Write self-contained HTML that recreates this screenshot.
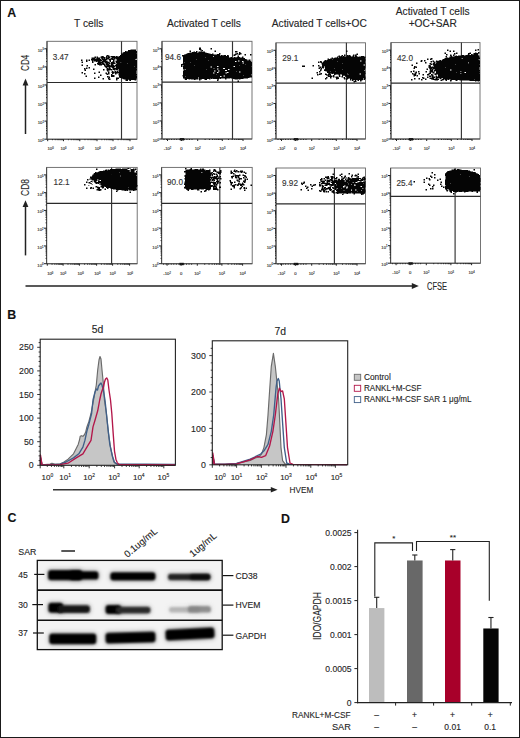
<!DOCTYPE html>
<html><head><meta charset="utf-8"><style>
html,body{margin:0;padding:0;background:#fff;}
body{width:520px;height:738px;overflow:hidden;}
svg{display:block;font-family:"Liberation Sans", sans-serif;}
text{stroke:#333;stroke-width:0.22px;stroke-opacity:0.6;}
</style></head><body>
<svg width="520" height="738" viewBox="0 0 520 738">
<defs>
<filter id="b1" x="-20%" y="-60%" width="140%" height="220%"><feGaussianBlur stdDeviation="1.25"/></filter>
<filter id="b2" x="-30%" y="-100%" width="160%" height="300%"><feGaussianBlur stdDeviation="2.2"/></filter>
</defs>
<rect x="0" y="0" width="520" height="738" fill="#fff"/>
<text x="7.20" y="17.40" font-size="12.4" text-anchor="start" font-weight="bold" fill="#111" >A</text>
<text x="88.70" y="26.90" font-size="10.2" text-anchor="middle" font-weight="normal" fill="#222" >T cells</text>
<text x="203.90" y="26.90" font-size="10.2" text-anchor="middle" font-weight="normal" fill="#222" >Activated T cells</text>
<text x="319.30" y="27.00" font-size="10.2" text-anchor="middle" font-weight="normal" fill="#222" >Activated T cells+OC</text>
<text x="432.70" y="15.00" font-size="10.2" text-anchor="middle" font-weight="normal" fill="#222" >Activated T cells</text>
<text x="432.70" y="26.90" font-size="10.2" text-anchor="middle" font-weight="normal" fill="#222" >+OC+SAR</text>
<rect x="47.00" y="41.30" width="90.00" height="97.90" fill="none" stroke="#666" stroke-width="0.9"/>
<line x1="47.00" y1="41.30" x2="47.00" y2="139.20" stroke="#4a4a4a" stroke-width="1.1"/>
<line x1="47.00" y1="139.20" x2="137.00" y2="139.20" stroke="#4a4a4a" stroke-width="1.1"/>
<line x1="47.00" y1="82.50" x2="137.00" y2="82.50" stroke="#2a2a2a" stroke-width="1.2"/>
<line x1="121.50" y1="41.30" x2="121.50" y2="139.20" stroke="#333" stroke-width="1.15"/>
<text x="44.00" y="142.10" font-size="4.2" text-anchor="end" font-weight="normal" fill="#333" >10<tspan font-size="2.9" dy="-1.3">0</tspan></text>
<text x="44.00" y="124.02" font-size="4.2" text-anchor="end" font-weight="normal" fill="#333" >10<tspan font-size="2.9" dy="-1.3">1</tspan></text>
<text x="44.00" y="105.94" font-size="4.2" text-anchor="end" font-weight="normal" fill="#333" >10<tspan font-size="2.9" dy="-1.3">2</tspan></text>
<text x="44.00" y="87.86" font-size="4.2" text-anchor="end" font-weight="normal" fill="#333" >10<tspan font-size="2.9" dy="-1.3">3</tspan></text>
<text x="44.00" y="69.78" font-size="4.2" text-anchor="end" font-weight="normal" fill="#333" >10<tspan font-size="2.9" dy="-1.3">4</tspan></text>
<text x="44.00" y="51.70" font-size="4.2" text-anchor="end" font-weight="normal" fill="#333" >10<tspan font-size="2.9" dy="-1.3">5</tspan></text>
<path d="M47.00 139.20h-2.6M47.00 133.76h-1M47.00 130.57h-1M47.00 128.31h-1M47.00 126.56h-1M47.00 125.13h-1M47.00 123.92h-1M47.00 122.87h-1M47.00 121.95h-1M47.00 121.12h-2.6M47.00 115.68h-1M47.00 112.49h-1M47.00 110.23h-1M47.00 108.48h-1M47.00 107.05h-1M47.00 105.84h-1M47.00 104.79h-1M47.00 103.87h-1M47.00 103.04h-2.6M47.00 97.60h-1M47.00 94.41h-1M47.00 92.15h-1M47.00 90.40h-1M47.00 88.97h-1M47.00 87.76h-1M47.00 86.71h-1M47.00 85.79h-1M47.00 84.96h-2.6M47.00 79.52h-1M47.00 76.33h-1M47.00 74.07h-1M47.00 72.32h-1M47.00 70.89h-1M47.00 69.68h-1M47.00 68.63h-1M47.00 67.71h-1M47.00 66.88h-2.6M47.00 61.44h-1M47.00 58.25h-1M47.00 55.99h-1M47.00 54.24h-1M47.00 52.81h-1M47.00 51.60h-1M47.00 50.55h-1M47.00 49.63h-1M47.00 48.80h-2.6M47.70 139.20v2M52.46 139.20v1M55.24 139.20v1M57.21 139.20v1M58.74 139.20v1M59.99 139.20v1M61.05 139.20v1M61.97 139.20v1M62.78 139.20v1M63.50 139.20v2M68.41 139.20v1M71.28 139.20v1M73.31 139.20v1M74.89 139.20v1M76.18 139.20v1M77.28 139.20v1M78.22 139.20v1M79.05 139.20v1M79.80 139.20v2M84.98 139.20v1M88.01 139.20v1M90.16 139.20v1M91.82 139.20v1M93.18 139.20v1M94.34 139.20v1M95.33 139.20v1M96.21 139.20v1M97.00 139.20v2M101.82 139.20v1M104.63 139.20v1M106.63 139.20v1M108.18 139.20v1M109.45 139.20v1M110.52 139.20v1M111.45 139.20v1M112.27 139.20v1M113.00 139.20v2M118.12 139.20v1M121.11 139.20v1M123.24 139.20v1M124.88 139.20v1M126.23 139.20v1M127.37 139.20v1M128.35 139.20v1M129.22 139.20v1M130.00 139.20v2" stroke="#222" stroke-width="1.0" fill="none"/>
<text x="50.60" y="150.40" font-size="4.2" text-anchor="middle" font-weight="normal" fill="#333" >10<tspan font-size="2.6" dy="-1.2">0</tspan></text>
<text x="63.50" y="150.40" font-size="4.2" text-anchor="middle" font-weight="normal" fill="#333" >10<tspan font-size="2.6" dy="-1.2">0</tspan></text>
<text x="81.00" y="150.40" font-size="4.2" text-anchor="middle" font-weight="normal" fill="#333" >10<tspan font-size="2.6" dy="-1.2">0</tspan></text>
<text x="97.70" y="150.40" font-size="4.2" text-anchor="middle" font-weight="normal" fill="#333" >10<tspan font-size="2.6" dy="-1.2">0</tspan></text>
<text x="113.00" y="150.40" font-size="4.2" text-anchor="middle" font-weight="normal" fill="#333" >10<tspan font-size="2.6" dy="-1.2">0</tspan></text>
<text x="130.40" y="150.40" font-size="4.2" text-anchor="middle" font-weight="normal" fill="#333" >10<tspan font-size="2.6" dy="-1.2">0</tspan></text>
<text x="52.70" y="59.50" font-size="8.2" text-anchor="start" font-weight="normal" fill="#333" >3.47</text>
<rect x="162.00" y="41.30" width="90.00" height="97.70" fill="none" stroke="#666" stroke-width="0.9"/>
<line x1="162.00" y1="41.30" x2="162.00" y2="139.00" stroke="#4a4a4a" stroke-width="1.1"/>
<line x1="162.00" y1="139.00" x2="252.00" y2="139.00" stroke="#4a4a4a" stroke-width="1.1"/>
<line x1="162.00" y1="82.20" x2="252.00" y2="82.20" stroke="#2a2a2a" stroke-width="1.2"/>
<line x1="232.50" y1="41.30" x2="232.50" y2="139.00" stroke="#333" stroke-width="1.15"/>
<text x="159.00" y="141.90" font-size="4.2" text-anchor="end" font-weight="normal" fill="#333" >10<tspan font-size="2.9" dy="-1.3">0</tspan></text>
<text x="159.00" y="123.86" font-size="4.2" text-anchor="end" font-weight="normal" fill="#333" >10<tspan font-size="2.9" dy="-1.3">1</tspan></text>
<text x="159.00" y="105.82" font-size="4.2" text-anchor="end" font-weight="normal" fill="#333" >10<tspan font-size="2.9" dy="-1.3">2</tspan></text>
<text x="159.00" y="87.78" font-size="4.2" text-anchor="end" font-weight="normal" fill="#333" >10<tspan font-size="2.9" dy="-1.3">3</tspan></text>
<text x="159.00" y="69.74" font-size="4.2" text-anchor="end" font-weight="normal" fill="#333" >10<tspan font-size="2.9" dy="-1.3">4</tspan></text>
<text x="159.00" y="51.70" font-size="4.2" text-anchor="end" font-weight="normal" fill="#333" >10<tspan font-size="2.9" dy="-1.3">5</tspan></text>
<rect x="179.80" y="138.10" width="4.4" height="2.4" fill="#111"/>
<path d="M162.00 139.00h-2.6M162.00 133.57h-1M162.00 130.39h-1M162.00 128.14h-1M162.00 126.39h-1M162.00 124.96h-1M162.00 123.75h-1M162.00 122.71h-1M162.00 121.79h-1M162.00 120.96h-2.6M162.00 115.53h-1M162.00 112.35h-1M162.00 110.10h-1M162.00 108.35h-1M162.00 106.92h-1M162.00 105.71h-1M162.00 104.67h-1M162.00 103.75h-1M162.00 102.92h-2.6M162.00 97.49h-1M162.00 94.31h-1M162.00 92.06h-1M162.00 90.31h-1M162.00 88.88h-1M162.00 87.67h-1M162.00 86.63h-1M162.00 85.71h-1M162.00 84.88h-2.6M162.00 79.45h-1M162.00 76.27h-1M162.00 74.02h-1M162.00 72.27h-1M162.00 70.84h-1M162.00 69.63h-1M162.00 68.59h-1M162.00 67.67h-1M162.00 66.84h-2.6M162.00 61.41h-1M162.00 58.23h-1M162.00 55.98h-1M162.00 54.23h-1M162.00 52.80h-1M162.00 51.59h-1M162.00 50.55h-1M162.00 49.63h-1M162.00 48.80h-2.6M167.50 139.00v2M181.50 139.00v2M197.70 139.00v2M222.30 139.00v2M243.00 139.00v2M164.00 139.00v1M166.55 139.00v1M169.09 139.00v1M171.64 139.00v1M174.18 139.00v1M176.73 139.00v1M179.27 139.00v1M181.82 139.00v1M184.36 139.00v1M186.91 139.00v1M189.45 139.00v1M192.00 139.00v1M205.11 139.00v1M209.44 139.00v1M212.51 139.00v1M214.89 139.00v1M216.84 139.00v1M218.49 139.00v1M219.92 139.00v1M221.17 139.00v1M228.53 139.00v1M232.18 139.00v1M234.76 139.00v1M236.77 139.00v1M238.41 139.00v1M239.79 139.00v1M240.99 139.00v1M242.05 139.00v1" stroke="#222" stroke-width="1.0" fill="none"/>
<text x="167.50" y="150.20" font-size="4.2" text-anchor="middle" font-weight="normal" fill="#333" >-10<tspan font-size="2.6" dy="-1.2">2</tspan></text>
<text x="181.50" y="150.20" font-size="4.2" text-anchor="middle" font-weight="normal" fill="#333" >0</text>
<text x="197.70" y="150.20" font-size="4.2" text-anchor="middle" font-weight="normal" fill="#333" >10<tspan font-size="2.6" dy="-1.2">2</tspan></text>
<text x="222.30" y="150.20" font-size="4.2" text-anchor="middle" font-weight="normal" fill="#333" >10<tspan font-size="2.6" dy="-1.2">3</tspan></text>
<text x="243.00" y="150.20" font-size="4.2" text-anchor="middle" font-weight="normal" fill="#333" >10<tspan font-size="2.6" dy="-1.2">4</tspan></text>
<text x="165.00" y="59.80" font-size="8.2" text-anchor="start" font-weight="normal" fill="#333" >94.6</text>
<rect x="276.00" y="42.80" width="89.50" height="96.20" fill="none" stroke="#666" stroke-width="0.9"/>
<line x1="276.00" y1="42.80" x2="276.00" y2="139.00" stroke="#4a4a4a" stroke-width="1.1"/>
<line x1="276.00" y1="139.00" x2="365.50" y2="139.00" stroke="#4a4a4a" stroke-width="1.1"/>
<line x1="276.00" y1="83.20" x2="365.50" y2="83.20" stroke="#2a2a2a" stroke-width="1.2"/>
<line x1="346.40" y1="42.80" x2="346.40" y2="139.00" stroke="#333" stroke-width="1.15"/>
<text x="273.00" y="141.90" font-size="4.2" text-anchor="end" font-weight="normal" fill="#333" >10<tspan font-size="2.9" dy="-1.3">0</tspan></text>
<text x="273.00" y="124.16" font-size="4.2" text-anchor="end" font-weight="normal" fill="#333" >10<tspan font-size="2.9" dy="-1.3">1</tspan></text>
<text x="273.00" y="106.42" font-size="4.2" text-anchor="end" font-weight="normal" fill="#333" >10<tspan font-size="2.9" dy="-1.3">2</tspan></text>
<text x="273.00" y="88.68" font-size="4.2" text-anchor="end" font-weight="normal" fill="#333" >10<tspan font-size="2.9" dy="-1.3">3</tspan></text>
<text x="273.00" y="70.94" font-size="4.2" text-anchor="end" font-weight="normal" fill="#333" >10<tspan font-size="2.9" dy="-1.3">4</tspan></text>
<text x="273.00" y="53.20" font-size="4.2" text-anchor="end" font-weight="normal" fill="#333" >10<tspan font-size="2.9" dy="-1.3">5</tspan></text>
<rect x="293.80" y="138.10" width="4.4" height="2.4" fill="#111"/>
<path d="M276.00 139.00h-2.6M276.00 133.66h-1M276.00 130.54h-1M276.00 128.32h-1M276.00 126.60h-1M276.00 125.20h-1M276.00 124.01h-1M276.00 122.98h-1M276.00 122.07h-1M276.00 121.26h-2.6M276.00 115.92h-1M276.00 112.80h-1M276.00 110.58h-1M276.00 108.86h-1M276.00 107.46h-1M276.00 106.27h-1M276.00 105.24h-1M276.00 104.33h-1M276.00 103.52h-2.6M276.00 98.18h-1M276.00 95.06h-1M276.00 92.84h-1M276.00 91.12h-1M276.00 89.72h-1M276.00 88.53h-1M276.00 87.50h-1M276.00 86.59h-1M276.00 85.78h-2.6M276.00 80.44h-1M276.00 77.32h-1M276.00 75.10h-1M276.00 73.38h-1M276.00 71.98h-1M276.00 70.79h-1M276.00 69.76h-1M276.00 68.85h-1M276.00 68.04h-2.6M276.00 62.70h-1M276.00 59.58h-1M276.00 57.36h-1M276.00 55.64h-1M276.00 54.24h-1M276.00 53.05h-1M276.00 52.02h-1M276.00 51.11h-1M276.00 50.30h-2.6M281.50 139.00v2M295.50 139.00v2M311.70 139.00v2M336.30 139.00v2M357.00 139.00v2M278.00 139.00v1M280.55 139.00v1M283.09 139.00v1M285.64 139.00v1M288.18 139.00v1M290.73 139.00v1M293.27 139.00v1M295.82 139.00v1M298.36 139.00v1M300.91 139.00v1M303.45 139.00v1M306.00 139.00v1M319.11 139.00v1M323.44 139.00v1M326.51 139.00v1M328.89 139.00v1M330.84 139.00v1M332.49 139.00v1M333.92 139.00v1M335.17 139.00v1M342.53 139.00v1M346.18 139.00v1M348.76 139.00v1M350.77 139.00v1M352.41 139.00v1M353.79 139.00v1M354.99 139.00v1M356.05 139.00v1" stroke="#222" stroke-width="1.0" fill="none"/>
<text x="281.50" y="150.20" font-size="4.2" text-anchor="middle" font-weight="normal" fill="#333" >-10<tspan font-size="2.6" dy="-1.2">2</tspan></text>
<text x="295.50" y="150.20" font-size="4.2" text-anchor="middle" font-weight="normal" fill="#333" >0</text>
<text x="311.70" y="150.20" font-size="4.2" text-anchor="middle" font-weight="normal" fill="#333" >10<tspan font-size="2.6" dy="-1.2">2</tspan></text>
<text x="336.30" y="150.20" font-size="4.2" text-anchor="middle" font-weight="normal" fill="#333" >10<tspan font-size="2.6" dy="-1.2">3</tspan></text>
<text x="357.00" y="150.20" font-size="4.2" text-anchor="middle" font-weight="normal" fill="#333" >10<tspan font-size="2.6" dy="-1.2">4</tspan></text>
<text x="282.30" y="60.80" font-size="8.2" text-anchor="start" font-weight="normal" fill="#333" >29.1</text>
<rect x="391.00" y="42.60" width="89.00" height="96.40" fill="none" stroke="#666" stroke-width="0.9"/>
<line x1="391.00" y1="42.60" x2="391.00" y2="139.00" stroke="#4a4a4a" stroke-width="1.1"/>
<line x1="391.00" y1="139.00" x2="480.00" y2="139.00" stroke="#4a4a4a" stroke-width="1.1"/>
<line x1="391.00" y1="83.20" x2="480.00" y2="83.20" stroke="#2a2a2a" stroke-width="1.2"/>
<line x1="461.40" y1="42.60" x2="461.40" y2="139.00" stroke="#333" stroke-width="1.15"/>
<text x="388.00" y="141.90" font-size="4.2" text-anchor="end" font-weight="normal" fill="#333" >10<tspan font-size="2.9" dy="-1.3">0</tspan></text>
<text x="388.00" y="124.12" font-size="4.2" text-anchor="end" font-weight="normal" fill="#333" >10<tspan font-size="2.9" dy="-1.3">1</tspan></text>
<text x="388.00" y="106.34" font-size="4.2" text-anchor="end" font-weight="normal" fill="#333" >10<tspan font-size="2.9" dy="-1.3">2</tspan></text>
<text x="388.00" y="88.56" font-size="4.2" text-anchor="end" font-weight="normal" fill="#333" >10<tspan font-size="2.9" dy="-1.3">3</tspan></text>
<text x="388.00" y="70.78" font-size="4.2" text-anchor="end" font-weight="normal" fill="#333" >10<tspan font-size="2.9" dy="-1.3">4</tspan></text>
<text x="388.00" y="53.00" font-size="4.2" text-anchor="end" font-weight="normal" fill="#333" >10<tspan font-size="2.9" dy="-1.3">5</tspan></text>
<rect x="408.80" y="138.10" width="4.4" height="2.4" fill="#111"/>
<path d="M391.00 139.00h-2.6M391.00 133.65h-1M391.00 130.52h-1M391.00 128.30h-1M391.00 126.57h-1M391.00 125.16h-1M391.00 123.97h-1M391.00 122.94h-1M391.00 122.03h-1M391.00 121.22h-2.6M391.00 115.87h-1M391.00 112.74h-1M391.00 110.52h-1M391.00 108.79h-1M391.00 107.38h-1M391.00 106.19h-1M391.00 105.16h-1M391.00 104.25h-1M391.00 103.44h-2.6M391.00 98.09h-1M391.00 94.96h-1M391.00 92.74h-1M391.00 91.01h-1M391.00 89.60h-1M391.00 88.41h-1M391.00 87.38h-1M391.00 86.47h-1M391.00 85.66h-2.6M391.00 80.31h-1M391.00 77.18h-1M391.00 74.96h-1M391.00 73.23h-1M391.00 71.82h-1M391.00 70.63h-1M391.00 69.60h-1M391.00 68.69h-1M391.00 67.88h-2.6M391.00 62.53h-1M391.00 59.40h-1M391.00 57.18h-1M391.00 55.45h-1M391.00 54.04h-1M391.00 52.85h-1M391.00 51.82h-1M391.00 50.91h-1M391.00 50.10h-2.6M396.50 139.00v2M410.50 139.00v2M426.70 139.00v2M451.30 139.00v2M472.00 139.00v2M393.00 139.00v1M395.55 139.00v1M398.09 139.00v1M400.64 139.00v1M403.18 139.00v1M405.73 139.00v1M408.27 139.00v1M410.82 139.00v1M413.36 139.00v1M415.91 139.00v1M418.45 139.00v1M421.00 139.00v1M434.11 139.00v1M438.44 139.00v1M441.51 139.00v1M443.89 139.00v1M445.84 139.00v1M447.49 139.00v1M448.92 139.00v1M450.17 139.00v1M457.53 139.00v1M461.18 139.00v1M463.76 139.00v1M465.77 139.00v1M467.41 139.00v1M468.79 139.00v1M469.99 139.00v1M471.05 139.00v1" stroke="#222" stroke-width="1.0" fill="none"/>
<text x="396.50" y="150.20" font-size="4.2" text-anchor="middle" font-weight="normal" fill="#333" >-10<tspan font-size="2.6" dy="-1.2">2</tspan></text>
<text x="410.50" y="150.20" font-size="4.2" text-anchor="middle" font-weight="normal" fill="#333" >0</text>
<text x="426.70" y="150.20" font-size="4.2" text-anchor="middle" font-weight="normal" fill="#333" >10<tspan font-size="2.6" dy="-1.2">2</tspan></text>
<text x="451.30" y="150.20" font-size="4.2" text-anchor="middle" font-weight="normal" fill="#333" >10<tspan font-size="2.6" dy="-1.2">3</tspan></text>
<text x="472.00" y="150.20" font-size="4.2" text-anchor="middle" font-weight="normal" fill="#333" >10<tspan font-size="2.6" dy="-1.2">4</tspan></text>
<text x="397.00" y="61.30" font-size="8.2" text-anchor="start" font-weight="normal" fill="#333" >42.0</text>
<rect x="46.60" y="167.40" width="90.60" height="96.30" fill="none" stroke="#666" stroke-width="0.9"/>
<line x1="46.60" y1="167.40" x2="46.60" y2="263.70" stroke="#4a4a4a" stroke-width="1.1"/>
<line x1="46.60" y1="263.70" x2="137.20" y2="263.70" stroke="#4a4a4a" stroke-width="1.1"/>
<line x1="46.60" y1="203.40" x2="137.20" y2="203.40" stroke="#2a2a2a" stroke-width="1.2"/>
<line x1="111.60" y1="167.40" x2="111.60" y2="263.70" stroke="#333" stroke-width="1.15"/>
<text x="43.60" y="266.60" font-size="4.2" text-anchor="end" font-weight="normal" fill="#333" >10<tspan font-size="2.9" dy="-1.3">0</tspan></text>
<text x="43.60" y="248.84" font-size="4.2" text-anchor="end" font-weight="normal" fill="#333" >10<tspan font-size="2.9" dy="-1.3">1</tspan></text>
<text x="43.60" y="231.08" font-size="4.2" text-anchor="end" font-weight="normal" fill="#333" >10<tspan font-size="2.9" dy="-1.3">2</tspan></text>
<text x="43.60" y="213.32" font-size="4.2" text-anchor="end" font-weight="normal" fill="#333" >10<tspan font-size="2.9" dy="-1.3">3</tspan></text>
<text x="43.60" y="195.56" font-size="4.2" text-anchor="end" font-weight="normal" fill="#333" >10<tspan font-size="2.9" dy="-1.3">4</tspan></text>
<text x="43.60" y="177.80" font-size="4.2" text-anchor="end" font-weight="normal" fill="#333" >10<tspan font-size="2.9" dy="-1.3">5</tspan></text>
<path d="M46.60 263.70h-2.6M46.60 258.35h-1M46.60 255.23h-1M46.60 253.01h-1M46.60 251.29h-1M46.60 249.88h-1M46.60 248.69h-1M46.60 247.66h-1M46.60 246.75h-1M46.60 245.94h-2.6M46.60 240.59h-1M46.60 237.47h-1M46.60 235.25h-1M46.60 233.53h-1M46.60 232.12h-1M46.60 230.93h-1M46.60 229.90h-1M46.60 228.99h-1M46.60 228.18h-2.6M46.60 222.83h-1M46.60 219.71h-1M46.60 217.49h-1M46.60 215.77h-1M46.60 214.36h-1M46.60 213.17h-1M46.60 212.14h-1M46.60 211.23h-1M46.60 210.42h-2.6M46.60 205.07h-1M46.60 201.95h-1M46.60 199.73h-1M46.60 198.01h-1M46.60 196.60h-1M46.60 195.41h-1M46.60 194.38h-1M46.60 193.47h-1M46.60 192.66h-2.6M46.60 187.31h-1M46.60 184.19h-1M46.60 181.97h-1M46.60 180.25h-1M46.60 178.84h-1M46.60 177.65h-1M46.60 176.62h-1M46.60 175.71h-1M46.60 174.90h-2.6M47.30 263.70v2M52.06 263.70v1M54.84 263.70v1M56.81 263.70v1M58.34 263.70v1M59.59 263.70v1M60.65 263.70v1M61.57 263.70v1M62.38 263.70v1M63.10 263.70v2M68.01 263.70v1M70.88 263.70v1M72.91 263.70v1M74.49 263.70v1M75.78 263.70v1M76.88 263.70v1M77.82 263.70v1M78.65 263.70v1M79.40 263.70v2M84.58 263.70v1M87.61 263.70v1M89.76 263.70v1M91.42 263.70v1M92.78 263.70v1M93.94 263.70v1M94.93 263.70v1M95.81 263.70v1M96.60 263.70v2M101.42 263.70v1M104.23 263.70v1M106.23 263.70v1M107.78 263.70v1M109.05 263.70v1M110.12 263.70v1M111.05 263.70v1M111.87 263.70v1M112.60 263.70v2M117.72 263.70v1M120.71 263.70v1M122.84 263.70v1M124.48 263.70v1M125.83 263.70v1M126.97 263.70v1M127.95 263.70v1M128.82 263.70v1M129.60 263.70v2" stroke="#222" stroke-width="1.0" fill="none"/>
<text x="50.20" y="274.90" font-size="4.2" text-anchor="middle" font-weight="normal" fill="#333" >10<tspan font-size="2.6" dy="-1.2">0</tspan></text>
<text x="63.10" y="274.90" font-size="4.2" text-anchor="middle" font-weight="normal" fill="#333" >10<tspan font-size="2.6" dy="-1.2">0</tspan></text>
<text x="80.60" y="274.90" font-size="4.2" text-anchor="middle" font-weight="normal" fill="#333" >10<tspan font-size="2.6" dy="-1.2">0</tspan></text>
<text x="97.30" y="274.90" font-size="4.2" text-anchor="middle" font-weight="normal" fill="#333" >10<tspan font-size="2.6" dy="-1.2">0</tspan></text>
<text x="112.60" y="274.90" font-size="4.2" text-anchor="middle" font-weight="normal" fill="#333" >10<tspan font-size="2.6" dy="-1.2">0</tspan></text>
<text x="130.00" y="274.90" font-size="4.2" text-anchor="middle" font-weight="normal" fill="#333" >10<tspan font-size="2.6" dy="-1.2">0</tspan></text>
<text x="53.60" y="184.80" font-size="8.2" text-anchor="start" font-weight="normal" fill="#333" >12.1</text>
<rect x="161.60" y="167.40" width="90.60" height="96.30" fill="none" stroke="#666" stroke-width="0.9"/>
<line x1="161.60" y1="167.40" x2="161.60" y2="263.70" stroke="#4a4a4a" stroke-width="1.1"/>
<line x1="161.60" y1="263.70" x2="252.20" y2="263.70" stroke="#4a4a4a" stroke-width="1.1"/>
<line x1="161.60" y1="203.40" x2="252.20" y2="203.40" stroke="#2a2a2a" stroke-width="1.2"/>
<line x1="219.80" y1="167.40" x2="219.80" y2="263.70" stroke="#333" stroke-width="1.15"/>
<text x="158.60" y="266.60" font-size="4.2" text-anchor="end" font-weight="normal" fill="#333" >10<tspan font-size="2.9" dy="-1.3">0</tspan></text>
<text x="158.60" y="248.84" font-size="4.2" text-anchor="end" font-weight="normal" fill="#333" >10<tspan font-size="2.9" dy="-1.3">1</tspan></text>
<text x="158.60" y="231.08" font-size="4.2" text-anchor="end" font-weight="normal" fill="#333" >10<tspan font-size="2.9" dy="-1.3">2</tspan></text>
<text x="158.60" y="213.32" font-size="4.2" text-anchor="end" font-weight="normal" fill="#333" >10<tspan font-size="2.9" dy="-1.3">3</tspan></text>
<text x="158.60" y="195.56" font-size="4.2" text-anchor="end" font-weight="normal" fill="#333" >10<tspan font-size="2.9" dy="-1.3">4</tspan></text>
<text x="158.60" y="177.80" font-size="4.2" text-anchor="end" font-weight="normal" fill="#333" >10<tspan font-size="2.9" dy="-1.3">5</tspan></text>
<rect x="179.40" y="262.80" width="4.4" height="2.4" fill="#111"/>
<path d="M161.60 263.70h-2.6M161.60 258.35h-1M161.60 255.23h-1M161.60 253.01h-1M161.60 251.29h-1M161.60 249.88h-1M161.60 248.69h-1M161.60 247.66h-1M161.60 246.75h-1M161.60 245.94h-2.6M161.60 240.59h-1M161.60 237.47h-1M161.60 235.25h-1M161.60 233.53h-1M161.60 232.12h-1M161.60 230.93h-1M161.60 229.90h-1M161.60 228.99h-1M161.60 228.18h-2.6M161.60 222.83h-1M161.60 219.71h-1M161.60 217.49h-1M161.60 215.77h-1M161.60 214.36h-1M161.60 213.17h-1M161.60 212.14h-1M161.60 211.23h-1M161.60 210.42h-2.6M161.60 205.07h-1M161.60 201.95h-1M161.60 199.73h-1M161.60 198.01h-1M161.60 196.60h-1M161.60 195.41h-1M161.60 194.38h-1M161.60 193.47h-1M161.60 192.66h-2.6M161.60 187.31h-1M161.60 184.19h-1M161.60 181.97h-1M161.60 180.25h-1M161.60 178.84h-1M161.60 177.65h-1M161.60 176.62h-1M161.60 175.71h-1M161.60 174.90h-2.6M167.10 263.70v2M181.10 263.70v2M197.30 263.70v2M221.90 263.70v2M242.60 263.70v2M163.60 263.70v1M166.15 263.70v1M168.69 263.70v1M171.24 263.70v1M173.78 263.70v1M176.33 263.70v1M178.87 263.70v1M181.42 263.70v1M183.96 263.70v1M186.51 263.70v1M189.05 263.70v1M191.60 263.70v1M204.71 263.70v1M209.04 263.70v1M212.11 263.70v1M214.49 263.70v1M216.44 263.70v1M218.09 263.70v1M219.52 263.70v1M220.77 263.70v1M228.13 263.70v1M231.78 263.70v1M234.36 263.70v1M236.37 263.70v1M238.01 263.70v1M239.39 263.70v1M240.59 263.70v1M241.65 263.70v1" stroke="#222" stroke-width="1.0" fill="none"/>
<text x="167.10" y="274.90" font-size="4.2" text-anchor="middle" font-weight="normal" fill="#333" >-10<tspan font-size="2.6" dy="-1.2">2</tspan></text>
<text x="181.10" y="274.90" font-size="4.2" text-anchor="middle" font-weight="normal" fill="#333" >0</text>
<text x="197.30" y="274.90" font-size="4.2" text-anchor="middle" font-weight="normal" fill="#333" >10<tspan font-size="2.6" dy="-1.2">2</tspan></text>
<text x="221.90" y="274.90" font-size="4.2" text-anchor="middle" font-weight="normal" fill="#333" >10<tspan font-size="2.6" dy="-1.2">3</tspan></text>
<text x="242.60" y="274.90" font-size="4.2" text-anchor="middle" font-weight="normal" fill="#333" >10<tspan font-size="2.6" dy="-1.2">4</tspan></text>
<text x="167.00" y="185.00" font-size="8.2" text-anchor="start" font-weight="normal" fill="#333" >90.0</text>
<rect x="276.00" y="168.00" width="89.50" height="95.70" fill="none" stroke="#666" stroke-width="0.9"/>
<line x1="276.00" y1="168.00" x2="276.00" y2="263.70" stroke="#4a4a4a" stroke-width="1.1"/>
<line x1="276.00" y1="263.70" x2="365.50" y2="263.70" stroke="#4a4a4a" stroke-width="1.1"/>
<line x1="276.00" y1="203.80" x2="365.50" y2="203.80" stroke="#2a2a2a" stroke-width="1.2"/>
<line x1="334.40" y1="168.00" x2="334.40" y2="263.70" stroke="#333" stroke-width="1.15"/>
<text x="273.00" y="266.60" font-size="4.2" text-anchor="end" font-weight="normal" fill="#333" >10<tspan font-size="2.9" dy="-1.3">0</tspan></text>
<text x="273.00" y="248.96" font-size="4.2" text-anchor="end" font-weight="normal" fill="#333" >10<tspan font-size="2.9" dy="-1.3">1</tspan></text>
<text x="273.00" y="231.32" font-size="4.2" text-anchor="end" font-weight="normal" fill="#333" >10<tspan font-size="2.9" dy="-1.3">2</tspan></text>
<text x="273.00" y="213.68" font-size="4.2" text-anchor="end" font-weight="normal" fill="#333" >10<tspan font-size="2.9" dy="-1.3">3</tspan></text>
<text x="273.00" y="196.04" font-size="4.2" text-anchor="end" font-weight="normal" fill="#333" >10<tspan font-size="2.9" dy="-1.3">4</tspan></text>
<text x="273.00" y="178.40" font-size="4.2" text-anchor="end" font-weight="normal" fill="#333" >10<tspan font-size="2.9" dy="-1.3">5</tspan></text>
<rect x="293.80" y="262.80" width="4.4" height="2.4" fill="#111"/>
<path d="M276.00 263.70h-2.6M276.00 258.39h-1M276.00 255.28h-1M276.00 253.08h-1M276.00 251.37h-1M276.00 249.97h-1M276.00 248.79h-1M276.00 247.77h-1M276.00 246.87h-1M276.00 246.06h-2.6M276.00 240.75h-1M276.00 237.64h-1M276.00 235.44h-1M276.00 233.73h-1M276.00 232.33h-1M276.00 231.15h-1M276.00 230.13h-1M276.00 229.23h-1M276.00 228.42h-2.6M276.00 223.11h-1M276.00 220.00h-1M276.00 217.80h-1M276.00 216.09h-1M276.00 214.69h-1M276.00 213.51h-1M276.00 212.49h-1M276.00 211.59h-1M276.00 210.78h-2.6M276.00 205.47h-1M276.00 202.36h-1M276.00 200.16h-1M276.00 198.45h-1M276.00 197.05h-1M276.00 195.87h-1M276.00 194.85h-1M276.00 193.95h-1M276.00 193.14h-2.6M276.00 187.83h-1M276.00 184.72h-1M276.00 182.52h-1M276.00 180.81h-1M276.00 179.41h-1M276.00 178.23h-1M276.00 177.21h-1M276.00 176.31h-1M276.00 175.50h-2.6M281.50 263.70v2M295.50 263.70v2M311.70 263.70v2M336.30 263.70v2M357.00 263.70v2M278.00 263.70v1M280.55 263.70v1M283.09 263.70v1M285.64 263.70v1M288.18 263.70v1M290.73 263.70v1M293.27 263.70v1M295.82 263.70v1M298.36 263.70v1M300.91 263.70v1M303.45 263.70v1M306.00 263.70v1M319.11 263.70v1M323.44 263.70v1M326.51 263.70v1M328.89 263.70v1M330.84 263.70v1M332.49 263.70v1M333.92 263.70v1M335.17 263.70v1M342.53 263.70v1M346.18 263.70v1M348.76 263.70v1M350.77 263.70v1M352.41 263.70v1M353.79 263.70v1M354.99 263.70v1M356.05 263.70v1" stroke="#222" stroke-width="1.0" fill="none"/>
<text x="281.50" y="274.90" font-size="4.2" text-anchor="middle" font-weight="normal" fill="#333" >-10<tspan font-size="2.6" dy="-1.2">2</tspan></text>
<text x="295.50" y="274.90" font-size="4.2" text-anchor="middle" font-weight="normal" fill="#333" >0</text>
<text x="311.70" y="274.90" font-size="4.2" text-anchor="middle" font-weight="normal" fill="#333" >10<tspan font-size="2.6" dy="-1.2">2</tspan></text>
<text x="336.30" y="274.90" font-size="4.2" text-anchor="middle" font-weight="normal" fill="#333" >10<tspan font-size="2.6" dy="-1.2">3</tspan></text>
<text x="357.00" y="274.90" font-size="4.2" text-anchor="middle" font-weight="normal" fill="#333" >10<tspan font-size="2.6" dy="-1.2">4</tspan></text>
<text x="282.00" y="186.00" font-size="8.2" text-anchor="start" font-weight="normal" fill="#333" >9.92</text>
<rect x="390.60" y="168.00" width="89.90" height="95.20" fill="none" stroke="#666" stroke-width="0.9"/>
<line x1="390.60" y1="168.00" x2="390.60" y2="263.20" stroke="#4a4a4a" stroke-width="1.1"/>
<line x1="390.60" y1="263.20" x2="480.50" y2="263.20" stroke="#4a4a4a" stroke-width="1.1"/>
<line x1="390.60" y1="196.40" x2="480.50" y2="196.40" stroke="#2a2a2a" stroke-width="1.2"/>
<line x1="455.10" y1="168.00" x2="455.10" y2="263.20" stroke="#333" stroke-width="1.15"/>
<text x="387.60" y="266.10" font-size="4.2" text-anchor="end" font-weight="normal" fill="#333" >10<tspan font-size="2.9" dy="-1.3">0</tspan></text>
<text x="387.60" y="248.56" font-size="4.2" text-anchor="end" font-weight="normal" fill="#333" >10<tspan font-size="2.9" dy="-1.3">1</tspan></text>
<text x="387.60" y="231.02" font-size="4.2" text-anchor="end" font-weight="normal" fill="#333" >10<tspan font-size="2.9" dy="-1.3">2</tspan></text>
<text x="387.60" y="213.48" font-size="4.2" text-anchor="end" font-weight="normal" fill="#333" >10<tspan font-size="2.9" dy="-1.3">3</tspan></text>
<text x="387.60" y="195.94" font-size="4.2" text-anchor="end" font-weight="normal" fill="#333" >10<tspan font-size="2.9" dy="-1.3">4</tspan></text>
<text x="387.60" y="178.40" font-size="4.2" text-anchor="end" font-weight="normal" fill="#333" >10<tspan font-size="2.9" dy="-1.3">5</tspan></text>
<rect x="408.40" y="262.30" width="4.4" height="2.4" fill="#111"/>
<path d="M390.60 263.20h-2.6M390.60 257.92h-1M390.60 254.83h-1M390.60 252.64h-1M390.60 250.94h-1M390.60 249.55h-1M390.60 248.38h-1M390.60 247.36h-1M390.60 246.46h-1M390.60 245.66h-2.6M390.60 240.38h-1M390.60 237.29h-1M390.60 235.10h-1M390.60 233.40h-1M390.60 232.01h-1M390.60 230.84h-1M390.60 229.82h-1M390.60 228.92h-1M390.60 228.12h-2.6M390.60 222.84h-1M390.60 219.75h-1M390.60 217.56h-1M390.60 215.86h-1M390.60 214.47h-1M390.60 213.30h-1M390.60 212.28h-1M390.60 211.38h-1M390.60 210.58h-2.6M390.60 205.30h-1M390.60 202.21h-1M390.60 200.02h-1M390.60 198.32h-1M390.60 196.93h-1M390.60 195.76h-1M390.60 194.74h-1M390.60 193.84h-1M390.60 193.04h-2.6M390.60 187.76h-1M390.60 184.67h-1M390.60 182.48h-1M390.60 180.78h-1M390.60 179.39h-1M390.60 178.22h-1M390.60 177.20h-1M390.60 176.30h-1M390.60 175.50h-2.6M396.10 263.20v2M410.10 263.20v2M426.30 263.20v2M450.90 263.20v2M471.60 263.20v2M392.60 263.20v1M395.15 263.20v1M397.69 263.20v1M400.24 263.20v1M402.78 263.20v1M405.33 263.20v1M407.87 263.20v1M410.42 263.20v1M412.96 263.20v1M415.51 263.20v1M418.05 263.20v1M420.60 263.20v1M433.71 263.20v1M438.04 263.20v1M441.11 263.20v1M443.49 263.20v1M445.44 263.20v1M447.09 263.20v1M448.52 263.20v1M449.77 263.20v1M457.13 263.20v1M460.78 263.20v1M463.36 263.20v1M465.37 263.20v1M467.01 263.20v1M468.39 263.20v1M469.59 263.20v1M470.65 263.20v1" stroke="#222" stroke-width="1.0" fill="none"/>
<text x="396.10" y="274.40" font-size="4.2" text-anchor="middle" font-weight="normal" fill="#333" >-10<tspan font-size="2.6" dy="-1.2">2</tspan></text>
<text x="410.10" y="274.40" font-size="4.2" text-anchor="middle" font-weight="normal" fill="#333" >0</text>
<text x="426.30" y="274.40" font-size="4.2" text-anchor="middle" font-weight="normal" fill="#333" >10<tspan font-size="2.6" dy="-1.2">2</tspan></text>
<text x="450.90" y="274.40" font-size="4.2" text-anchor="middle" font-weight="normal" fill="#333" >10<tspan font-size="2.6" dy="-1.2">3</tspan></text>
<text x="471.60" y="274.40" font-size="4.2" text-anchor="middle" font-weight="normal" fill="#333" >10<tspan font-size="2.6" dy="-1.2">4</tspan></text>
<text x="396.50" y="185.80" font-size="8.2" text-anchor="start" font-weight="normal" fill="#333" >25.4</text>
<path d="M130.5 49.5h5.5v.5h-5.5zM128 50h8v.5h-8zM128 50.5h8v.5h-8zM125 51h1.5v.5h-1.5zM127.5 51h9.5v.5h-9.5zM125 51.5h12v.5h-12zM123.5 52h13.5v.5h-13.5zM122.5 52.5h14.5v.5h-14.5zM122.5 53h14.5v.5h-14.5zM121 53.5h15.5v.5h-15.5zM121 54h16v.5h-16zM121 54.5h16v.5h-16zM107 55h1.5v.5h-1.5zM120 55h17v.5h-17zM106 55.5h3.5v.5h-3.5zM120 55.5h17v.5h-17zM101.5 56h2v.5h-2zM106 56h3.5v.5h-3.5zM110.5 56h4.5v.5h-4.5zM116 56h1.5v.5h-1.5zM119 56h18v.5h-18zM94.5 56.5h1.5v.5h-1.5zM96.5 56.5h1.5v.5h-1.5zM100.5 56.5h3.5v.5h-3.5zM106 56.5h1.5v.5h-1.5zM108 56.5h2v.5h-2zM110.5 56.5h26.5v.5h-26.5zM94.5 57h1.5v.5h-1.5zM96.5 57h1.5v.5h-1.5zM100.5 57h5v.5h-5zM106 57h1.5v.5h-1.5zM108 57h2v.5h-2zM110.5 57h26.5v.5h-26.5zM91.5 57.5h4.5v.5h-4.5zM96.5 57.5h3.5v.5h-3.5zM100.5 57.5h5v.5h-5zM106 57.5h4v.5h-4zM112 57.5h25v.5h-25zM91.5 58h3.5v.5h-3.5zM96.5 58h3.5v.5h-3.5zM100.5 58h2.5v.5h-2.5zM103.5 58h2v.5h-2zM106 58h3.5v.5h-3.5zM110.5 58h3v.5h-3zM114 58h23v.5h-23zM91.5 58.5h8.5v.5h-8.5zM101.5 58.5h3.5v.5h-3.5zM105.5 58.5h4v.5h-4zM110.5 58.5h5v.5h-5zM116 58.5h20.5v.5h-20.5zM91 59h10v.5h-10zM102 59h13.5v.5h-13.5zM116 59h19.5v.5h-19.5zM81 59.5h1.5v.5h-1.5zM86 59.5h1.5v.5h-1.5zM88.5 59.5h1.5v.5h-1.5zM91 59.5h16v.5h-16zM109 59.5h2v.5h-2zM111.5 59.5h3v.5h-3zM117 59.5h18.5v.5h-18.5zM81 60h1.5v.5h-1.5zM86 60h1.5v.5h-1.5zM88.5 60h1.5v.5h-1.5zM91 60h11v.5h-11zM102.5 60h3.5v.5h-3.5zM109 60h2v.5h-2zM113 60h1.5v.5h-1.5zM117 60h20v.5h-20zM81 60.5h1.5v.5h-1.5zM86 60.5h1.5v.5h-1.5zM88.5 60.5h1.5v.5h-1.5zM92 60.5h1.5v.5h-1.5zM94 60.5h8v.5h-8zM102.5 60.5h5v.5h-5zM109.5 60.5h1.5v.5h-1.5zM113 60.5h1.5v.5h-1.5zM115.5 60.5h21.5v.5h-21.5zM86 61h1.5v.5h-1.5zM92 61h1.5v.5h-1.5zM94 61h7v.5h-7zM102 61h5.5v.5h-5.5zM109.5 61h1.5v.5h-1.5zM112.5 61h2v.5h-2zM115.5 61h21.5v.5h-21.5zM81.5 61.5h1.5v.5h-1.5zM86 61.5h1.5v.5h-1.5zM92 61.5h1.5v.5h-1.5zM96 61.5h1.5v.5h-1.5zM98 61.5h2.5v.5h-2.5zM101 61.5h7.5v.5h-7.5zM109.5 61.5h1.5v.5h-1.5zM112.5 61.5h2v.5h-2zM115.5 61.5h21.5v.5h-21.5zM81.5 62h1.5v.5h-1.5zM92 62h1.5v.5h-1.5zM98 62h5.5v.5h-5.5zM104.5 62h5v.5h-5zM111 62h3.5v.5h-3.5zM116 62h4.5v.5h-4.5zM121.5 62h15.5v.5h-15.5zM81.5 62.5h1.5v.5h-1.5zM92 62.5h1.5v.5h-1.5zM97.5 62.5h6.5v.5h-6.5zM104.5 62.5h6v.5h-6zM111 62.5h4.5v.5h-4.5zM116 62.5h5v.5h-5zM121.5 62.5h15.5v.5h-15.5zM97 63h7v.5h-7zM105.5 63h5v.5h-5zM111 63h4.5v.5h-4.5zM116 63h21v.5h-21zM97 63.5h4v.5h-4zM101.5 63.5h3.5v.5h-3.5zM105.5 63.5h3v.5h-3zM109 63.5h1.5v.5h-1.5zM111 63.5h4.5v.5h-4.5zM117 63.5h10v.5h-10zM127.5 63.5h9.5v.5h-9.5zM94.5 64h1.5v.5h-1.5zM97 64h8v.5h-8zM105.5 64h3.5v.5h-3.5zM111 64h3v.5h-3zM116 64h21v.5h-21zM81.5 64.5h1.5v.5h-1.5zM94.5 64.5h1.5v.5h-1.5zM98 64.5h4v.5h-4zM102.5 64.5h3v.5h-3zM106 64.5h4.5v.5h-4.5zM111 64.5h2v.5h-2zM115.5 64.5h21.5v.5h-21.5zM81.5 65h1.5v.5h-1.5zM86.5 65h1.5v.5h-1.5zM94.5 65h1.5v.5h-1.5zM99 65h3v.5h-3zM104 65h1.5v.5h-1.5zM106.5 65h4v.5h-4zM111 65h3v.5h-3zM115 65h22v.5h-22zM81.5 65.5h1.5v.5h-1.5zM86.5 65.5h1.5v.5h-1.5zM104 65.5h33v.5h-33zM86.5 66h1.5v.5h-1.5zM104.5 66h32.5v.5h-32.5zM104.5 66.5h10.5v.5h-10.5zM116 66.5h18.5v.5h-18.5zM135 66.5h2v.5h-2zM88.5 67h1.5v.5h-1.5zM105.5 67h1.5v.5h-1.5zM108.5 67h2v.5h-2zM111.5 67h2.5v.5h-2.5zM116 67h21v.5h-21zM86 67.5h1.5v.5h-1.5zM88.5 67.5h1.5v.5h-1.5zM105.5 67.5h2.5v.5h-2.5zM108.5 67.5h2v.5h-2zM111.5 67.5h4v.5h-4zM116 67.5h21v.5h-21zM84 68h1.5v.5h-1.5zM86 68h1.5v.5h-1.5zM88.5 68h1.5v.5h-1.5zM106.5 68h1.5v.5h-1.5zM108.5 68h2v.5h-2zM112 68h25v.5h-25zM84 68.5h1.5v.5h-1.5zM86 68.5h1.5v.5h-1.5zM93 68.5h1.5v.5h-1.5zM106.5 68.5h4.5v.5h-4.5zM113 68.5h23.5v.5h-23.5zM84 69h1.5v.5h-1.5zM93 69h1.5v.5h-1.5zM103 69h1.5v.5h-1.5zM106.5 69h6v.5h-6zM113 69h24v.5h-24zM84.5 69.5h1.5v.5h-1.5zM93 69.5h1.5v.5h-1.5zM103 69.5h1.5v.5h-1.5zM106.5 69.5h6v.5h-6zM113 69.5h2.5v.5h-2.5zM116 69.5h2v.5h-2zM119 69.5h18v.5h-18zM84.5 70h1.5v.5h-1.5zM103 70h1.5v.5h-1.5zM106.5 70h4v.5h-4zM111 70h1.5v.5h-1.5zM114 70h1.5v.5h-1.5zM116.5 70h1.5v.5h-1.5zM118.5 70h18.5v.5h-18.5zM84.5 70.5h1.5v.5h-1.5zM107 70.5h1.5v.5h-1.5zM118.5 70.5h18v.5h-18zM107 71h1.5v.5h-1.5zM112 71h1.5v.5h-1.5zM114.5 71h1.5v.5h-1.5zM116.5 71h1.5v.5h-1.5zM118.5 71h18v.5h-18zM98.5 71.5h1.5v.5h-1.5zM108 71.5h1.5v.5h-1.5zM111.5 71.5h2v.5h-2zM114.5 71.5h1.5v.5h-1.5zM116.5 71.5h1.5v.5h-1.5zM118.5 71.5h18v.5h-18zM81.5 72h1.5v.5h-1.5zM98.5 72h1.5v.5h-1.5zM108 72h1.5v.5h-1.5zM111.5 72h25v.5h-25zM81.5 72.5h1.5v.5h-1.5zM94 72.5h1.5v.5h-1.5zM98.5 72.5h1.5v.5h-1.5zM105.5 72.5h1.5v.5h-1.5zM108 72.5h1.5v.5h-1.5zM111.5 72.5h3v.5h-3zM115 72.5h21.5v.5h-21.5zM81.5 73h1.5v.5h-1.5zM84 73h1.5v.5h-1.5zM94 73h1.5v.5h-1.5zM105.5 73h1.5v.5h-1.5zM108 73h1.5v.5h-1.5zM112 73h2.5v.5h-2.5zM115 73h21.5v.5h-21.5zM84 73.5h1.5v.5h-1.5zM94 73.5h1.5v.5h-1.5zM105.5 73.5h4v.5h-4zM112 73.5h1.5v.5h-1.5zM115 73.5h1.5v.5h-1.5zM119 73.5h17.5v.5h-17.5zM84 74h1.5v.5h-1.5zM106.5 74h3v.5h-3zM111 74h1.5v.5h-1.5zM115 74h1.5v.5h-1.5zM118.5 74h18.5v.5h-18.5zM100 74.5h1.5v.5h-1.5zM106.5 74.5h1.5v.5h-1.5zM111 74.5h1.5v.5h-1.5zM118.5 74.5h18.5v.5h-18.5zM100 75h1.5v.5h-1.5zM111 75h3.5v.5h-3.5zM118.5 75h18.5v.5h-18.5zM85.5 75.5h1.5v.5h-1.5zM100 75.5h1.5v.5h-1.5zM111 75.5h3.5v.5h-3.5zM119 75.5h17.5v.5h-17.5zM85.5 76h1.5v.5h-1.5zM107 76h1.5v.5h-1.5zM111 76h3.5v.5h-3.5zM119 76h18v.5h-18zM85.5 76.5h1.5v.5h-1.5zM98 76.5h1.5v.5h-1.5zM107 76.5h3v.5h-3zM111 76.5h3.5v.5h-3.5zM119 76.5h18v.5h-18zM98 77h1.5v.5h-1.5zM107 77h3v.5h-3zM119 77h18v.5h-18zM94 77.5h1.5v.5h-1.5zM98 77.5h1.5v.5h-1.5zM108.5 77.5h1.5v.5h-1.5zM116 77.5h3v.5h-3zM119.5 77.5h17.5v.5h-17.5zM94 78h1.5v.5h-1.5zM102.5 78h1.5v.5h-1.5zM108 78h1.5v.5h-1.5zM116 78h3v.5h-3zM121.5 78h15.5v.5h-15.5zM94 78.5h1.5v.5h-1.5zM102.5 78.5h1.5v.5h-1.5zM108 78.5h2.5v.5h-2.5zM116 78.5h3v.5h-3zM122.5 78.5h14v.5h-14zM102.5 79h1.5v.5h-1.5zM108 79h2.5v.5h-2.5zM116 79h1.5v.5h-1.5zM123.5 79h13v.5h-13zM109 79.5h1.5v.5h-1.5zM116 79.5h1.5v.5h-1.5zM125.5 79.5h2.5v.5h-2.5zM128.5 79.5h8v.5h-8zM116 80h1.5v.5h-1.5zM125.5 80h2.5v.5h-2.5zM129 80h2v.5h-2zM134.5 80h1.5v.5h-1.5zM125.5 80.5h2.5v.5h-2.5zM129.5 80.5h1.5v.5h-1.5zM199 47.5h2v.5h-2zM199 48h2v.5h-2zM210.5 48h1.5v.5h-1.5zM199 48.5h2v.5h-2zM210.5 48.5h1.5v.5h-1.5zM199 49h2.5v.5h-2.5zM210.5 49h1.5v.5h-1.5zM199 49.5h2.5v.5h-2.5zM200 50h3v.5h-3zM189.5 50.5h1.5v.5h-1.5zM201.5 50.5h1.5v.5h-1.5zM214.5 50.5h1.5v.5h-1.5zM189.5 51h1.5v.5h-1.5zM196 51h1.5v.5h-1.5zM201.5 51h1.5v.5h-1.5zM214.5 51h1.5v.5h-1.5zM235 51h2.5v.5h-2.5zM189.5 51.5h1.5v.5h-1.5zM193.5 51.5h1.5v.5h-1.5zM196 51.5h1.5v.5h-1.5zM198.5 51.5h3.5v.5h-3.5zM203 51.5h2v.5h-2zM214.5 51.5h1.5v.5h-1.5zM235 51.5h2.5v.5h-2.5zM192 52h5.5v.5h-5.5zM198.5 52h6.5v.5h-6.5zM235 52h2.5v.5h-2.5zM239 52h1.5v.5h-1.5zM189.5 52.5h7.5v.5h-7.5zM197.5 52.5h9v.5h-9zM239 52.5h1.5v.5h-1.5zM187.5 53h21v.5h-21zM219 53h1.5v.5h-1.5zM236.5 53h1.5v.5h-1.5zM239 53h2.5v.5h-2.5zM186.5 53.5h24v.5h-24zM212 53.5h1.5v.5h-1.5zM219 53.5h1.5v.5h-1.5zM235 53.5h3v.5h-3zM238.5 53.5h3v.5h-3zM185.5 54h28v.5h-28zM217 54h3.5v.5h-3.5zM234.5 54h3.5v.5h-3.5zM238.5 54h3v.5h-3zM244.5 54h1.5v.5h-1.5zM250 54h1.5v.5h-1.5zM184 54.5h36v.5h-36zM233.5 54.5h3v.5h-3zM238.5 54.5h1.5v.5h-1.5zM244.5 54.5h1.5v.5h-1.5zM250 54.5h1.5v.5h-1.5zM182 55h38.5v.5h-38.5zM221 55h1.5v.5h-1.5zM223.5 55h2.5v.5h-2.5zM227 55h1.5v.5h-1.5zM233.5 55h2.5v.5h-2.5zM244.5 55h1.5v.5h-1.5zM250 55h1.5v.5h-1.5zM182 55.5h38.5v.5h-38.5zM221 55.5h5v.5h-5zM227 55.5h2v.5h-2zM233.5 55.5h1.5v.5h-1.5zM237.5 55.5h1.5v.5h-1.5zM182 56h31v.5h-31zM213.5 56h15.5v.5h-15.5zM237.5 56h1.5v.5h-1.5zM183 56.5h30v.5h-30zM214 56.5h15v.5h-15zM237.5 56.5h1.5v.5h-1.5zM242 56.5h1.5v.5h-1.5zM183 57h22v.5h-22zM205.5 57h23.5v.5h-23.5zM230.5 57h1.5v.5h-1.5zM234 57h1.5v.5h-1.5zM236.5 57h3.5v.5h-3.5zM242 57h1.5v.5h-1.5zM183 57.5h49v.5h-49zM233 57.5h10.5v.5h-10.5zM183 58h62v.5h-62zM183 58.5h62v.5h-62zM183 59h13.5v.5h-13.5zM197 59h49.5v.5h-49.5zM183 59.5h64.5v.5h-64.5zM248.5 59.5h2v.5h-2zM183 60h64.5v.5h-64.5zM248.5 60h2v.5h-2zM183 60.5h25.5v.5h-25.5zM209 60.5h29v.5h-29zM239.5 60.5h11v.5h-11zM183 61h52v.5h-52zM236.5 61h1.5v.5h-1.5zM239.5 61h2.5v.5h-2.5zM243.5 61h7.5v.5h-7.5zM183 61.5h52v.5h-52zM236.5 61.5h5.5v.5h-5.5zM243.5 61.5h8v.5h-8zM183 62h1.5v.5h-1.5zM185 62h67v.5h-67zM183 62.5h7v.5h-7zM190.5 62.5h52v.5h-52zM244 62.5h8v.5h-8zM183 63h59.5v.5h-59.5zM244 63h8v.5h-8zM182.5 63.5h69.5v.5h-69.5zM181 64h71v.5h-71zM181 64.5h64v.5h-64zM245.5 64.5h6.5v.5h-6.5zM181 65h1.5v.5h-1.5zM183.5 65h68.5v.5h-68.5zM181 65.5h1.5v.5h-1.5zM183 65.5h11v.5h-11zM194.5 65.5h44.5v.5h-44.5zM239.5 65.5h12.5v.5h-12.5zM181 66h1.5v.5h-1.5zM183 66h34v.5h-34zM218.5 66h15v.5h-15zM235 66h16.5v.5h-16.5zM181 66.5h1.5v.5h-1.5zM183 66.5h27.5v.5h-27.5zM212 66.5h5v.5h-5zM218.5 66.5h15v.5h-15zM235 66.5h17v.5h-17zM183 67h27.5v.5h-27.5zM212 67h40v.5h-40zM183 67.5h69v.5h-69zM183 68h40v.5h-40zM225 68h27v.5h-27zM183 68.5h30.5v.5h-30.5zM214.5 68.5h2.5v.5h-2.5zM218.5 68.5h4.5v.5h-4.5zM225 68.5h27v.5h-27zM183 69h1.5v.5h-1.5zM186 69h20v.5h-20zM206.5 69h10.5v.5h-10.5zM218.5 69h9.5v.5h-9.5zM229.5 69h22.5v.5h-22.5zM184 69.5h44v.5h-44zM229.5 69.5h22.5v.5h-22.5zM184 70h41v.5h-41zM227 70h25v.5h-25zM183 70.5h31v.5h-31zM215.5 70.5h2.5v.5h-2.5zM219.5 70.5h5.5v.5h-5.5zM227 70.5h25v.5h-25zM183 71h31v.5h-31zM215.5 71h2.5v.5h-2.5zM219.5 71h17v.5h-17zM237 71h15v.5h-15zM183 71.5h56v.5h-56zM240.5 71.5h11.5v.5h-11.5zM183 72h34v.5h-34zM218.5 72h8.5v.5h-8.5zM228.5 72h10.5v.5h-10.5zM240.5 72h11.5v.5h-11.5zM183 72.5h30v.5h-30zM214.5 72.5h2.5v.5h-2.5zM218.5 72.5h7v.5h-7zM228.5 72.5h23.5v.5h-23.5zM183 73h30v.5h-30zM214.5 73h11v.5h-11zM227 73h25v.5h-25zM183 73.5h69v.5h-69zM183 74h33.5v.5h-33.5zM217 74h34.5v.5h-34.5zM183 74.5h68.5v.5h-68.5zM182.5 75h61v.5h-61zM244 75h7.5v.5h-7.5zM182.5 75.5h41v.5h-41zM225 75.5h27v.5h-27zM182.5 76h3v.5h-3zM186 76h34v.5h-34zM221.5 76h2v.5h-2zM225 76h27v.5h-27zM183 76.5h37v.5h-37zM221.5 76.5h30.5v.5h-30.5zM183 77h69v.5h-69zM183 77.5h15v.5h-15zM199 77.5h50.5v.5h-50.5zM183 78h15.5v.5h-15.5zM199 78h31v.5h-31zM230.5 78h1.5v.5h-1.5zM232.5 78h15.5v.5h-15.5zM184.5 78.5h14v.5h-14zM199 78.5h11.5v.5h-11.5zM211 78.5h1.5v.5h-1.5zM213 78.5h6v.5h-6zM219.5 78.5h1.5v.5h-1.5zM225 78.5h1.5v.5h-1.5zM232.5 78.5h11v.5h-11zM184.5 79h2.5v.5h-2.5zM188.5 79h1.5v.5h-1.5zM190.5 79h8v.5h-8zM199 79h3v.5h-3zM204.5 79h2.5v.5h-2.5zM209 79h1.5v.5h-1.5zM217.5 79h1.5v.5h-1.5zM225 79h1.5v.5h-1.5zM234.5 79h4v.5h-4zM239 79h1.5v.5h-1.5zM185 79.5h2v.5h-2zM194 79.5h1.5v.5h-1.5zM199 79.5h1.5v.5h-1.5zM204.5 79.5h2.5v.5h-2.5zM217 79.5h1.5v.5h-1.5zM199 80h1.5v.5h-1.5zM217 80h1.5v.5h-1.5zM217 80.5h1.5v.5h-1.5zM237.5 80.5h1.5v.5h-1.5zM237.5 81h1.5v.5h-1.5zM237.5 81.5h1.5v.5h-1.5zM346 50.5h1.5v.5h-1.5zM346 51h1.5v.5h-1.5zM346 51.5h1.5v.5h-1.5zM356.5 53.5h1.5v.5h-1.5zM356.5 54h1.5v.5h-1.5zM344 54.5h1.5v.5h-1.5zM353 54.5h1.5v.5h-1.5zM355 54.5h3v.5h-3zM341.5 55h1.5v.5h-1.5zM344 55h1.5v.5h-1.5zM347 55h1.5v.5h-1.5zM349 55h1.5v.5h-1.5zM353 55h1.5v.5h-1.5zM355 55h1.5v.5h-1.5zM338.5 55.5h1.5v.5h-1.5zM341.5 55.5h1.5v.5h-1.5zM344 55.5h1.5v.5h-1.5zM347 55.5h3.5v.5h-3.5zM352.5 55.5h2v.5h-2zM355 55.5h2v.5h-2zM338.5 56h1.5v.5h-1.5zM340.5 56h4v.5h-4zM347 56h4v.5h-4zM352.5 56h1.5v.5h-1.5zM354.5 56h2.5v.5h-2.5zM361 56h3v.5h-3zM337 56.5h5v.5h-5zM342.5 56.5h11.5v.5h-11.5zM354.5 56.5h3.5v.5h-3.5zM358.5 56.5h7v.5h-7zM337 57h1.5v.5h-1.5zM339 57h26.5v.5h-26.5zM331.5 57.5h1.5v.5h-1.5zM334.5 57.5h4v.5h-4zM339 57.5h26.5v.5h-26.5zM331.5 58h1.5v.5h-1.5zM333.5 58h31.5v.5h-31.5zM327.5 58.5h1.5v.5h-1.5zM330 58.5h35.5v.5h-35.5zM327.5 59h4.5v.5h-4.5zM332.5 59h33v.5h-33zM327.5 59.5h38v.5h-38zM324.5 60h1.5v.5h-1.5zM326.5 60h39v.5h-39zM324.5 60.5h35.5v.5h-35.5zM361.5 60.5h4v.5h-4zM320 61h1.5v.5h-1.5zM323.5 61h36.5v.5h-36.5zM361.5 61h4v.5h-4zM318 61.5h1.5v.5h-1.5zM320 61.5h2v.5h-2zM323.5 61.5h14v.5h-14zM338 61.5h27v.5h-27zM318 62h1.5v.5h-1.5zM320 62h2v.5h-2zM322.5 62h42.5v.5h-42.5zM318 62.5h1.5v.5h-1.5zM320.5 62.5h1.5v.5h-1.5zM322.5 62.5h43v.5h-43zM321.5 63h44v.5h-44zM321.5 63.5h21v.5h-21zM343 63.5h22.5v.5h-22.5zM321.5 64h44v.5h-44zM322 64.5h41.5v.5h-41.5zM365 64.5h0.5v.5h-0.5zM312.5 65h1.5v.5h-1.5zM318 65h1.5v.5h-1.5zM322 65h41.5v.5h-41.5zM365 65h0.5v.5h-0.5zM302 65.5h3v.5h-3zM312.5 65.5h1.5v.5h-1.5zM318 65.5h1.5v.5h-1.5zM322 65.5h43.5v.5h-43.5zM302 66h3v.5h-3zM312.5 66h1.5v.5h-1.5zM318 66h1.5v.5h-1.5zM322 66h2.5v.5h-2.5zM325 66h40.5v.5h-40.5zM302 66.5h3v.5h-3zM319.5 66.5h2v.5h-2zM322 66.5h2.5v.5h-2.5zM325 66.5h40.5v.5h-40.5zM319.5 67h2v.5h-2zM322 67h2.5v.5h-2.5zM325 67h40.5v.5h-40.5zM318.5 67.5h3v.5h-3zM322 67.5h2v.5h-2zM325 67.5h40.5v.5h-40.5zM318.5 68h1.5v.5h-1.5zM320.5 68h1.5v.5h-1.5zM322.5 68h1.5v.5h-1.5zM325 68h9v.5h-9zM334.5 68h31v.5h-31zM318.5 68.5h1.5v.5h-1.5zM320.5 68.5h1.5v.5h-1.5zM325 68.5h40v.5h-40zM320.5 69h1.5v.5h-1.5zM324.5 69h17.5v.5h-17.5zM342.5 69h22.5v.5h-22.5zM320 69.5h1.5v.5h-1.5zM324 69.5h41v.5h-41zM320 70h1.5v.5h-1.5zM324 70h40.5v.5h-40.5zM320 70.5h1.5v.5h-1.5zM324 70.5h40.5v.5h-40.5zM319 71h1.5v.5h-1.5zM325.5 71h10v.5h-10zM336 71h29.5v.5h-29.5zM319 71.5h1.5v.5h-1.5zM327 71.5h3v.5h-3zM330.5 71.5h34.5v.5h-34.5zM316.5 72h1.5v.5h-1.5zM319 72h1.5v.5h-1.5zM327 72h38v.5h-38zM316.5 72.5h1.5v.5h-1.5zM327 72.5h38.5v.5h-38.5zM316.5 73h1.5v.5h-1.5zM320.5 73h1.5v.5h-1.5zM328.5 73h37v.5h-37zM319 73.5h3v.5h-3zM325 73.5h1.5v.5h-1.5zM328 73.5h2.5v.5h-2.5zM331.5 73.5h2v.5h-2zM334 73.5h13.5v.5h-13.5zM348 73.5h11.5v.5h-11.5zM361 73.5h4.5v.5h-4.5zM317 74h1.5v.5h-1.5zM319 74h3v.5h-3zM325 74h2.5v.5h-2.5zM328 74h3v.5h-3zM334 74h13.5v.5h-13.5zM348.5 74h11v.5h-11zM361 74h4v.5h-4zM317 74.5h1.5v.5h-1.5zM319 74.5h1.5v.5h-1.5zM325 74.5h2.5v.5h-2.5zM328 74.5h3v.5h-3zM334 74.5h1.5v.5h-1.5zM338.5 74.5h1.5v.5h-1.5zM342 74.5h23v.5h-23zM317 75h1.5v.5h-1.5zM326 75h3v.5h-3zM329.5 75h1.5v.5h-1.5zM333 75h1.5v.5h-1.5zM338.5 75h1.5v.5h-1.5zM342 75h23v.5h-23zM327.5 75.5h5v.5h-5zM333 75.5h1.5v.5h-1.5zM339 75.5h1.5v.5h-1.5zM342 75.5h1.5v.5h-1.5zM344.5 75.5h20.5v.5h-20.5zM327.5 76h5v.5h-5zM333 76h1.5v.5h-1.5zM339 76h1.5v.5h-1.5zM341.5 76h1.5v.5h-1.5zM345 76h20v.5h-20zM328 76.5h4.5v.5h-4.5zM333 76.5h1.5v.5h-1.5zM335.5 76.5h3v.5h-3zM339 76.5h1.5v.5h-1.5zM341.5 76.5h1.5v.5h-1.5zM345.5 76.5h20v.5h-20zM326 77h1.5v.5h-1.5zM330 77h1.5v.5h-1.5zM333 77h1.5v.5h-1.5zM335.5 77h3v.5h-3zM341.5 77h1.5v.5h-1.5zM343.5 77h1.5v.5h-1.5zM346.5 77h19v.5h-19zM311.5 77.5h1.5v.5h-1.5zM326 77.5h1.5v.5h-1.5zM330 77.5h1.5v.5h-1.5zM335.5 77.5h3.5v.5h-3.5zM343.5 77.5h1.5v.5h-1.5zM347 77.5h18.5v.5h-18.5zM311.5 78h1.5v.5h-1.5zM325 78h2.5v.5h-2.5zM330 78h1.5v.5h-1.5zM336 78h3v.5h-3zM343.5 78h2v.5h-2zM347 78h16v.5h-16zM363.5 78h2v.5h-2zM311.5 78.5h1.5v.5h-1.5zM325 78.5h1.5v.5h-1.5zM336 78.5h3v.5h-3zM344 78.5h1.5v.5h-1.5zM346 78.5h2.5v.5h-2.5zM350 78.5h13v.5h-13zM363.5 78.5h2v.5h-2zM325 79h1.5v.5h-1.5zM336 79h1.5v.5h-1.5zM344 79h1.5v.5h-1.5zM346 79h1.5v.5h-1.5zM350 79h1.5v.5h-1.5zM352 79h11v.5h-11zM363.5 79h1.5v.5h-1.5zM346 79.5h1.5v.5h-1.5zM350 79.5h1.5v.5h-1.5zM352 79.5h11v.5h-11zM363.5 79.5h1.5v.5h-1.5zM350 80h1.5v.5h-1.5zM352 80h1.5v.5h-1.5zM354.5 80h1.5v.5h-1.5zM357.5 80h1.5v.5h-1.5zM360 80h2.5v.5h-2.5zM352 80.5h1.5v.5h-1.5zM355 80.5h1.5v.5h-1.5zM357.5 80.5h1.5v.5h-1.5zM360 80.5h1.5v.5h-1.5zM353.5 81h3v.5h-3zM360 81h1.5v.5h-1.5zM353.5 81.5h3v.5h-3zM353.5 82h1.5v.5h-1.5zM477.5 49h1.5v.5h-1.5zM447 49.5h1.5v.5h-1.5zM475 49.5h1.5v.5h-1.5zM477.5 49.5h1.5v.5h-1.5zM447 50h1.5v.5h-1.5zM475 50h1.5v.5h-1.5zM477.5 50h1.5v.5h-1.5zM447 50.5h1.5v.5h-1.5zM449.5 50.5h1.5v.5h-1.5zM453 50.5h1.5v.5h-1.5zM475 50.5h1.5v.5h-1.5zM449.5 51h1.5v.5h-1.5zM453 51h1.5v.5h-1.5zM449.5 51.5h1.5v.5h-1.5zM453 51.5h1.5v.5h-1.5zM478 52h1.5v.5h-1.5zM444.5 52.5h1.5v.5h-1.5zM456 52.5h1.5v.5h-1.5zM469.5 52.5h1.5v.5h-1.5zM475 52.5h1.5v.5h-1.5zM478 52.5h1.5v.5h-1.5zM444.5 53h1.5v.5h-1.5zM454 53h1.5v.5h-1.5zM456 53h1.5v.5h-1.5zM468 53h3v.5h-3zM473.5 53h6v.5h-6zM444.5 53.5h1.5v.5h-1.5zM454 53.5h1.5v.5h-1.5zM456 53.5h1.5v.5h-1.5zM468 53.5h3v.5h-3zM473.5 53.5h5v.5h-5zM446 54h1.5v.5h-1.5zM454 54h1.5v.5h-1.5zM468 54h1.5v.5h-1.5zM471 54h1.5v.5h-1.5zM473.5 54h5v.5h-5zM446 54.5h1.5v.5h-1.5zM450 54.5h1.5v.5h-1.5zM453 54.5h1.5v.5h-1.5zM467.5 54.5h2v.5h-2zM471 54.5h7v.5h-7zM446 55h1.5v.5h-1.5zM450 55h1.5v.5h-1.5zM453 55h1.5v.5h-1.5zM461.5 55h2.5v.5h-2.5zM465.5 55h13v.5h-13zM450 55.5h2v.5h-2zM453 55.5h1.5v.5h-1.5zM455.5 55.5h1.5v.5h-1.5zM458 55.5h21.5v.5h-21.5zM445.5 56h1.5v.5h-1.5zM450.5 56h1.5v.5h-1.5zM454.5 56h25v.5h-25zM445.5 56.5h1.5v.5h-1.5zM449.5 56.5h30v.5h-30zM445.5 57h1.5v.5h-1.5zM449.5 57h30v.5h-30zM446.5 57.5h1.5v.5h-1.5zM448.5 57.5h31.5v.5h-31.5zM431 58h1.5v.5h-1.5zM445 58h16v.5h-16zM462.5 58h17.5v.5h-17.5zM427 58.5h1.5v.5h-1.5zM430 58.5h2.5v.5h-2.5zM444 58.5h17v.5h-17zM462.5 58.5h17.5v.5h-17.5zM427 59h1.5v.5h-1.5zM430 59h2.5v.5h-2.5zM443 59h35.5v.5h-35.5zM427 59.5h1.5v.5h-1.5zM430 59.5h1.5v.5h-1.5zM442 59.5h37.5v.5h-37.5zM421 60h1.5v.5h-1.5zM424 60h1.5v.5h-1.5zM439.5 60h1.5v.5h-1.5zM442 60h37.5v.5h-37.5zM420.5 60.5h2v.5h-2zM424 60.5h1.5v.5h-1.5zM432.5 60.5h1.5v.5h-1.5zM436 60.5h1.5v.5h-1.5zM438.5 60.5h41.5v.5h-41.5zM420.5 61h2v.5h-2zM424 61h1.5v.5h-1.5zM430.5 61h1.5v.5h-1.5zM432.5 61h1.5v.5h-1.5zM436 61h44v.5h-44zM420.5 61.5h1.5v.5h-1.5zM430.5 61.5h1.5v.5h-1.5zM432.5 61.5h3v.5h-3zM436 61.5h44v.5h-44zM425 62h1.5v.5h-1.5zM430.5 62h1.5v.5h-1.5zM433.5 62h2v.5h-2zM436.5 62h32v.5h-32zM469 62h11v.5h-11zM416 62.5h1.5v.5h-1.5zM425 62.5h1.5v.5h-1.5zM433.5 62.5h2v.5h-2zM436 62.5h32.5v.5h-32.5zM469 62.5h11v.5h-11zM416 63h1.5v.5h-1.5zM425 63h1.5v.5h-1.5zM429.5 63h1.5v.5h-1.5zM433 63h2v.5h-2zM436 63h32v.5h-32zM468.5 63h11.5v.5h-11.5zM416 63.5h1.5v.5h-1.5zM429.5 63.5h3v.5h-3zM433 63.5h47v.5h-47zM429.5 64h3v.5h-3zM433 64h22.5v.5h-22.5zM456 64h24v.5h-24zM411.5 64.5h1.5v.5h-1.5zM430.5 64.5h2v.5h-2zM433 64.5h46.5v.5h-46.5zM411.5 65h1.5v.5h-1.5zM428.5 65h2v.5h-2zM433 65h47v.5h-47zM411.5 65.5h1.5v.5h-1.5zM428.5 65.5h2.5v.5h-2.5zM433.5 65.5h46.5v.5h-46.5zM414 66h1.5v.5h-1.5zM428.5 66h2.5v.5h-2.5zM434 66h46v.5h-46zM414 66.5h3v.5h-3zM428.5 66.5h2.5v.5h-2.5zM431.5 66.5h48.5v.5h-48.5zM414 67h3v.5h-3zM428.5 67h17v.5h-17zM446 67h33.5v.5h-33.5zM413.5 67.5h1.5v.5h-1.5zM415.5 67.5h1.5v.5h-1.5zM428.5 67.5h51v.5h-51zM413.5 68h1.5v.5h-1.5zM429 68h3.5v.5h-3.5zM433 68h46.5v.5h-46.5zM413.5 68.5h1.5v.5h-1.5zM426.5 68.5h1.5v.5h-1.5zM429.5 68.5h50v.5h-50zM426.5 69h1.5v.5h-1.5zM429.5 69h1.5v.5h-1.5zM431.5 69h2v.5h-2zM434.5 69h45v.5h-45zM426.5 69.5h1.5v.5h-1.5zM430 69.5h3.5v.5h-3.5zM434.5 69.5h15.5v.5h-15.5zM451.5 69.5h28v.5h-28zM430 70h3.5v.5h-3.5zM434 70h16v.5h-16zM451.5 70h28.5v.5h-28.5zM413 70.5h1.5v.5h-1.5zM429.5 70.5h3.5v.5h-3.5zM434 70.5h46v.5h-46zM410.5 71h1.5v.5h-1.5zM413 71h1.5v.5h-1.5zM418 71h1.5v.5h-1.5zM425.5 71h1.5v.5h-1.5zM429.5 71h3.5v.5h-3.5zM434 71h1.5v.5h-1.5zM436 71h24.5v.5h-24.5zM462 71h18v.5h-18zM410.5 71.5h1.5v.5h-1.5zM413 71.5h1.5v.5h-1.5zM415.5 71.5h1.5v.5h-1.5zM418 71.5h1.5v.5h-1.5zM425.5 71.5h1.5v.5h-1.5zM429.5 71.5h5v.5h-5zM436 71.5h24.5v.5h-24.5zM462 71.5h17.5v.5h-17.5zM410.5 72h1.5v.5h-1.5zM415.5 72h1.5v.5h-1.5zM418 72h1.5v.5h-1.5zM425.5 72h1.5v.5h-1.5zM429.5 72h5v.5h-5zM436 72h28.5v.5h-28.5zM466 72h14v.5h-14zM414.5 72.5h2.5v.5h-2.5zM429.5 72.5h1.5v.5h-1.5zM432.5 72.5h2v.5h-2zM436 72.5h20v.5h-20zM456.5 72.5h8v.5h-8zM466 72.5h14v.5h-14zM412 73h1.5v.5h-1.5zM414.5 73h2v.5h-2zM418.5 73h1.5v.5h-1.5zM428.5 73h2.5v.5h-2.5zM432.5 73h2v.5h-2zM435.5 73h25v.5h-25zM462 73h18v.5h-18zM412 73.5h1.5v.5h-1.5zM414.5 73.5h2v.5h-2zM418.5 73.5h1.5v.5h-1.5zM428.5 73.5h2.5v.5h-2.5zM434.5 73.5h26v.5h-26zM462 73.5h17.5v.5h-17.5zM412 74h4.5v.5h-4.5zM418.5 74h1.5v.5h-1.5zM422.5 74h1.5v.5h-1.5zM427 74h3v.5h-3zM431 74h1.5v.5h-1.5zM434.5 74h2.5v.5h-2.5zM437.5 74h42.5v.5h-42.5zM413.5 74.5h2.5v.5h-2.5zM422.5 74.5h1.5v.5h-1.5zM427 74.5h2v.5h-2zM431 74.5h2.5v.5h-2.5zM434.5 74.5h2v.5h-2zM437.5 74.5h42.5v.5h-42.5zM413.5 75h2.5v.5h-2.5zM416.5 75h1.5v.5h-1.5zM422.5 75h1.5v.5h-1.5zM427 75h2v.5h-2zM431 75h2.5v.5h-2.5zM438 75h42v.5h-42zM413.5 75.5h2.5v.5h-2.5zM416.5 75.5h1.5v.5h-1.5zM429 75.5h2v.5h-2zM431.5 75.5h2v.5h-2zM435.5 75.5h1.5v.5h-1.5zM438 75.5h42v.5h-42zM413.5 76h1.5v.5h-1.5zM416.5 76h1.5v.5h-1.5zM429 76h2v.5h-2zM431.5 76h2v.5h-2zM435.5 76h1.5v.5h-1.5zM438 76h42v.5h-42zM427 76.5h1.5v.5h-1.5zM429 76.5h2v.5h-2zM431.5 76.5h3.5v.5h-3.5zM435.5 76.5h44.5v.5h-44.5zM422 77h1.5v.5h-1.5zM427 77h1.5v.5h-1.5zM432 77h3v.5h-3zM435.5 77h44.5v.5h-44.5zM422 77.5h2.5v.5h-2.5zM427 77.5h1.5v.5h-1.5zM429.5 77.5h5.5v.5h-5.5zM435.5 77.5h44.5v.5h-44.5zM414 78h1.5v.5h-1.5zM418.5 78h1.5v.5h-1.5zM422 78h2.5v.5h-2.5zM429.5 78h4.5v.5h-4.5zM435.5 78h2v.5h-2zM439 78h2.5v.5h-2.5zM443 78h37v.5h-37zM414 78.5h1.5v.5h-1.5zM418.5 78.5h1.5v.5h-1.5zM423 78.5h1.5v.5h-1.5zM425 78.5h1.5v.5h-1.5zM429.5 78.5h5v.5h-5zM435.5 78.5h3.5v.5h-3.5zM440 78.5h1.5v.5h-1.5zM442.5 78.5h37.5v.5h-37.5zM411 79h1.5v.5h-1.5zM414 79h1.5v.5h-1.5zM418.5 79h1.5v.5h-1.5zM421 79h1.5v.5h-1.5zM425 79h1.5v.5h-1.5zM431 79h8v.5h-8zM442 79h32v.5h-32zM474.5 79h5.5v.5h-5.5zM411 79.5h1.5v.5h-1.5zM421 79.5h1.5v.5h-1.5zM425 79.5h1.5v.5h-1.5zM432.5 79.5h6.5v.5h-6.5zM440.5 79.5h3.5v.5h-3.5zM445 79.5h2v.5h-2zM447.5 79.5h1.5v.5h-1.5zM450.5 79.5h29.5v.5h-29.5zM411 80h1.5v.5h-1.5zM421 80h1.5v.5h-1.5zM434.5 80h3.5v.5h-3.5zM440.5 80h3v.5h-3zM445.5 80h1.5v.5h-1.5zM450 80h2v.5h-2zM455.5 80h2v.5h-2zM459.5 80h20.5v.5h-20.5zM440.5 80.5h1.5v.5h-1.5zM445.5 80.5h1.5v.5h-1.5zM450 80.5h1.5v.5h-1.5zM455.5 80.5h2v.5h-2zM469.5 80.5h10.5v.5h-10.5zM450 81h1.5v.5h-1.5zM475 81h1.5v.5h-1.5zM477.5 81h1.5v.5h-1.5zM127.5 168h1.5v.5h-1.5zM96 168.5h1.5v.5h-1.5zM115.5 168.5h5.5v.5h-5.5zM122 168.5h9v.5h-9zM133 168.5h1.5v.5h-1.5zM135 168.5h1.5v.5h-1.5zM96 169h1.5v.5h-1.5zM110 169h17.5v.5h-17.5zM130.5 169h4v.5h-4zM135 169h1.5v.5h-1.5zM96 169.5h1.5v.5h-1.5zM105.5 169.5h2v.5h-2zM108 169.5h1.5v.5h-1.5zM110 169.5h17.5v.5h-17.5zM130.5 169.5h6v.5h-6zM105 170h2.5v.5h-2.5zM108 170h27.5v.5h-27.5zM103 170.5h26.5v.5h-26.5zM131 170.5h3.5v.5h-3.5zM99.5 171h30v.5h-30zM131 171h3.5v.5h-3.5zM136 171h1v.5h-1zM98.5 171.5h36v.5h-36zM136 171.5h1v.5h-1zM95 172h1.5v.5h-1.5zM97.5 172h37v.5h-37zM136 172h1v.5h-1zM95 172.5h24v.5h-24zM119.5 172.5h17v.5h-17zM94 173h43v.5h-43zM93.5 173.5h43.5v.5h-43.5zM93.5 174h43.5v.5h-43.5zM92.5 174.5h18.5v.5h-18.5zM111.5 174.5h25.5v.5h-25.5zM92.5 175h44v.5h-44zM92 175.5h28.5v.5h-28.5zM121 175.5h15.5v.5h-15.5zM92 176h28.5v.5h-28.5zM121 176h16v.5h-16zM90 176.5h47v.5h-47zM90 177h47v.5h-47zM90 177.5h47v.5h-47zM90.5 178h46.5v.5h-46.5zM89.5 178.5h47.5v.5h-47.5zM87 179h1.5v.5h-1.5zM89.5 179h47.5v.5h-47.5zM87 179.5h1.5v.5h-1.5zM89.5 179.5h0.5v.5h-0.5zM91.5 179.5h5.5v.5h-5.5zM98.5 179.5h38.5v.5h-38.5zM87 180h1.5v.5h-1.5zM91.5 180h5.5v.5h-5.5zM98.5 180h1v.5h-1zM101 180h36v.5h-36zM94 180.5h5.5v.5h-5.5zM101 180.5h36v.5h-36zM91 181h1.5v.5h-1.5zM94 181h2.5v.5h-2.5zM98 181h39v.5h-39zM86 181.5h1.5v.5h-1.5zM90 181.5h2.5v.5h-2.5zM93.5 181.5h3v.5h-3zM98 181.5h39v.5h-39zM86 182h1.5v.5h-1.5zM88.5 182h2v.5h-2zM92 182h0.5v.5h-0.5zM94.5 182h42.5v.5h-42.5zM86 182.5h1.5v.5h-1.5zM88.5 182.5h2v.5h-2zM94.5 182.5h42.5v.5h-42.5zM88.5 183h3v.5h-3zM95.5 183h41.5v.5h-41.5zM90.5 183.5h1.5v.5h-1.5zM95.5 183.5h1.5v.5h-1.5zM97.5 183.5h1.5v.5h-1.5zM100.5 183.5h36.5v.5h-36.5zM84 184h1.5v.5h-1.5zM91.5 184h1.5v.5h-1.5zM100.5 184h36.5v.5h-36.5zM84 184.5h1.5v.5h-1.5zM99 184.5h38v.5h-38zM84 185h1.5v.5h-1.5zM100.5 185h37v.5h-37zM88 185.5h1.5v.5h-1.5zM101.5 185.5h36v.5h-36zM95.5 186h1.5v.5h-1.5zM100.5 186h37v.5h-37zM95.5 186.5h3v.5h-3zM100.5 186.5h3.5v.5h-3.5zM104.5 186.5h32.5v.5h-32.5zM90.5 187h1.5v.5h-1.5zM95.5 187h4.5v.5h-4.5zM100.5 187h3.5v.5h-3.5zM106 187h31v.5h-31zM86 187.5h1.5v.5h-1.5zM90 187.5h2v.5h-2zM92.5 187.5h1.5v.5h-1.5zM97 187.5h3v.5h-3zM102 187.5h2v.5h-2zM106 187.5h22.5v.5h-22.5zM129 187.5h7.5v.5h-7.5zM86 188h1.5v.5h-1.5zM90 188h2v.5h-2zM92.5 188h1.5v.5h-1.5zM97.5 188h2.5v.5h-2.5zM102 188h1.5v.5h-1.5zM107 188h1.5v.5h-1.5zM110 188h26.5v.5h-26.5zM86 188.5h1.5v.5h-1.5zM90 188.5h1.5v.5h-1.5zM92.5 188.5h1.5v.5h-1.5zM97.5 188.5h2.5v.5h-2.5zM104.5 188.5h1.5v.5h-1.5zM107 188.5h1.5v.5h-1.5zM111 188.5h26v.5h-26zM96.5 189h5v.5h-5zM104.5 189h1.5v.5h-1.5zM113 189h24v.5h-24zM96.5 189.5h5v.5h-5zM104.5 189.5h1.5v.5h-1.5zM116 189.5h12v.5h-12zM128.5 189.5h8.5v.5h-8.5zM96.5 190h5v.5h-5zM117 190h1.5v.5h-1.5zM121.5 190h6.5v.5h-6.5zM128.5 190h8v.5h-8zM98.5 190.5h2v.5h-2zM116 190.5h1.5v.5h-1.5zM124.5 190.5h1.5v.5h-1.5zM126.5 190.5h1.5v.5h-1.5zM133 190.5h1.5v.5h-1.5zM116 191h1.5v.5h-1.5zM116 191.5h1.5v.5h-1.5zM129.5 191.5h1.5v.5h-1.5zM129.5 192h1.5v.5h-1.5zM129.5 192.5h1.5v.5h-1.5zM185 168h1.5v.5h-1.5zM190.5 168h1.5v.5h-1.5zM185 168.5h1.5v.5h-1.5zM190.5 168.5h1.5v.5h-1.5zM200 168.5h1.5v.5h-1.5zM202 168.5h2v.5h-2zM185 169h1.5v.5h-1.5zM189.5 169h2.5v.5h-2.5zM194.5 169h3.5v.5h-3.5zM200 169h1.5v.5h-1.5zM202 169h2v.5h-2zM213.5 169h1.5v.5h-1.5zM186.5 169.5h19v.5h-19zM209 169.5h1.5v.5h-1.5zM213.5 169.5h2.5v.5h-2.5zM234 169.5h1.5v.5h-1.5zM186 170h19.5v.5h-19.5zM206 170h4.5v.5h-4.5zM213.5 170h2.5v.5h-2.5zM220 170h1.5v.5h-1.5zM234 170h1.5v.5h-1.5zM236 170h1.5v.5h-1.5zM185 170.5h25.5v.5h-25.5zM213 170.5h3.5v.5h-3.5zM220 170.5h1.5v.5h-1.5zM230.5 170.5h1.5v.5h-1.5zM233.5 170.5h2v.5h-2zM236 170.5h1.5v.5h-1.5zM240 170.5h3v.5h-3zM184 171h26.5v.5h-26.5zM213 171h1.5v.5h-1.5zM215 171h1.5v.5h-1.5zM220 171h1.5v.5h-1.5zM230.5 171h1.5v.5h-1.5zM233.5 171h5.5v.5h-5.5zM239.5 171h3.5v.5h-3.5zM184 171.5h26.5v.5h-26.5zM213 171.5h1.5v.5h-1.5zM215 171.5h6.5v.5h-6.5zM230.5 171.5h1.5v.5h-1.5zM233.5 171.5h3v.5h-3zM237.5 171.5h1.5v.5h-1.5zM239.5 171.5h3.5v.5h-3.5zM243.5 171.5h1.5v.5h-1.5zM184 172h18v.5h-18zM202.5 172h8v.5h-8zM211.5 172h1.5v.5h-1.5zM216.5 172h5v.5h-5zM230.5 172h2.5v.5h-2.5zM235 172h1.5v.5h-1.5zM237.5 172h1.5v.5h-1.5zM239.5 172h3v.5h-3zM243.5 172h1.5v.5h-1.5zM185.5 172.5h15.5v.5h-15.5zM202 172.5h11v.5h-11zM216.5 172.5h5v.5h-5zM230.5 172.5h2.5v.5h-2.5zM241 172.5h1.5v.5h-1.5zM243.5 172.5h3v.5h-3zM185.5 173h29v.5h-29zM218 173h3v.5h-3zM230.5 173h4v.5h-4zM245 173h1.5v.5h-1.5zM185.5 173.5h26.5v.5h-26.5zM213 173.5h2.5v.5h-2.5zM216 173.5h1.5v.5h-1.5zM218 173.5h3v.5h-3zM230.5 173.5h1.5v.5h-1.5zM233 173.5h1.5v.5h-1.5zM245 173.5h1.5v.5h-1.5zM185.5 174h30v.5h-30zM216 174h1.5v.5h-1.5zM219.5 174h1.5v.5h-1.5zM233 174h1.5v.5h-1.5zM185.5 174.5h25.5v.5h-25.5zM211.5 174.5h1.5v.5h-1.5zM214 174.5h1.5v.5h-1.5zM216 174.5h1.5v.5h-1.5zM234.5 174.5h1.5v.5h-1.5zM239 174.5h1.5v.5h-1.5zM242.5 174.5h1.5v.5h-1.5zM184.5 175h26.5v.5h-26.5zM211.5 175h1.5v.5h-1.5zM216.5 175h1.5v.5h-1.5zM234.5 175h6v.5h-6zM242.5 175h3v.5h-3zM184.5 175.5h26.5v.5h-26.5zM211.5 175.5h1.5v.5h-1.5zM216.5 175.5h1.5v.5h-1.5zM232.5 175.5h1.5v.5h-1.5zM234.5 175.5h6v.5h-6zM242.5 175.5h3.5v.5h-3.5zM184.5 176h26v.5h-26zM211.5 176h1.5v.5h-1.5zM213.5 176h1.5v.5h-1.5zM215.5 176h3v.5h-3zM219.5 176h1.5v.5h-1.5zM231 176h3v.5h-3zM234.5 176h5v.5h-5zM244 176h2v.5h-2zM184.5 176.5h26.5v.5h-26.5zM213.5 176.5h5v.5h-5zM219.5 176.5h1.5v.5h-1.5zM231 176.5h3v.5h-3zM235 176.5h1.5v.5h-1.5zM237.5 176.5h1.5v.5h-1.5zM244.5 176.5h2.5v.5h-2.5zM185 177h33.5v.5h-33.5zM219.5 177h1.5v.5h-1.5zM231 177h2v.5h-2zM235 177h2v.5h-2zM237.5 177h2v.5h-2zM243 177h1.5v.5h-1.5zM245.5 177h1.5v.5h-1.5zM185 177.5h32v.5h-32zM218 177.5h1.5v.5h-1.5zM231.5 177.5h1.5v.5h-1.5zM235 177.5h2v.5h-2zM237.5 177.5h2v.5h-2zM243 177.5h1.5v.5h-1.5zM245.5 177.5h1.5v.5h-1.5zM184.5 178h25.5v.5h-25.5zM210.5 178h9v.5h-9zM220 178h1.5v.5h-1.5zM231.5 178h1.5v.5h-1.5zM235.5 178h1.5v.5h-1.5zM237.5 178h4.5v.5h-4.5zM243 178h1.5v.5h-1.5zM184.5 178.5h25.5v.5h-25.5zM210.5 178.5h1.5v.5h-1.5zM213 178.5h6.5v.5h-6.5zM220 178.5h1.5v.5h-1.5zM239 178.5h3v.5h-3zM244.5 178.5h1.5v.5h-1.5zM246.5 178.5h1.5v.5h-1.5zM184.5 179h26.5v.5h-26.5zM211.5 179h3v.5h-3zM215.5 179h2.5v.5h-2.5zM220 179h1.5v.5h-1.5zM238.5 179h3.5v.5h-3.5zM244.5 179h1.5v.5h-1.5zM246.5 179h1.5v.5h-1.5zM185 179.5h26v.5h-26zM211.5 179.5h3.5v.5h-3.5zM216.5 179.5h2v.5h-2zM236.5 179.5h1.5v.5h-1.5zM238.5 179.5h1.5v.5h-1.5zM244.5 179.5h1.5v.5h-1.5zM246.5 179.5h1.5v.5h-1.5zM185 180h26v.5h-26zM211.5 180h3.5v.5h-3.5zM217 180h1.5v.5h-1.5zM229.5 180h1.5v.5h-1.5zM236.5 180h3.5v.5h-3.5zM244.5 180h1.5v.5h-1.5zM185 180.5h25.5v.5h-25.5zM211.5 180.5h1.5v.5h-1.5zM213.5 180.5h1.5v.5h-1.5zM216.5 180.5h2v.5h-2zM229.5 180.5h1.5v.5h-1.5zM236.5 180.5h2v.5h-2zM243 180.5h3v.5h-3zM185 181h25.5v.5h-25.5zM216 181h3v.5h-3zM229.5 181h1.5v.5h-1.5zM237 181h3v.5h-3zM243 181h3v.5h-3zM184.5 181.5h26v.5h-26zM211 181.5h1.5v.5h-1.5zM213 181.5h1.5v.5h-1.5zM216 181.5h3v.5h-3zM230 181.5h1.5v.5h-1.5zM234 181.5h1.5v.5h-1.5zM238.5 181.5h1.5v.5h-1.5zM243 181.5h2.5v.5h-2.5zM184.5 182h34.5v.5h-34.5zM219.5 182h1.5v.5h-1.5zM230 182h3v.5h-3zM234 182h1.5v.5h-1.5zM238.5 182h1.5v.5h-1.5zM244 182h1.5v.5h-1.5zM184.5 182.5h31.5v.5h-31.5zM217 182.5h1.5v.5h-1.5zM219.5 182.5h1.5v.5h-1.5zM230 182.5h3v.5h-3zM234 182.5h1.5v.5h-1.5zM242 182.5h1.5v.5h-1.5zM244 182.5h1.5v.5h-1.5zM184.5 183h26.5v.5h-26.5zM212.5 183h4v.5h-4zM217 183h1.5v.5h-1.5zM219.5 183h1.5v.5h-1.5zM230.5 183h2.5v.5h-2.5zM238 183h1.5v.5h-1.5zM242 183h1.5v.5h-1.5zM184 183.5h27v.5h-27zM213 183.5h3.5v.5h-3.5zM217 183.5h1.5v.5h-1.5zM230.5 183.5h1.5v.5h-1.5zM238 183.5h3v.5h-3zM241.5 183.5h2v.5h-2zM184 184h27v.5h-27zM213 184h4.5v.5h-4.5zM230.5 184h1.5v.5h-1.5zM235 184h1.5v.5h-1.5zM237.5 184h7v.5h-7zM184 184.5h26.5v.5h-26.5zM213.5 184.5h1.5v.5h-1.5zM215.5 184.5h2v.5h-2zM230.5 184.5h1.5v.5h-1.5zM233.5 184.5h3v.5h-3zM237 184.5h2v.5h-2zM239.5 184.5h5v.5h-5zM250.5 184.5h1.5v.5h-1.5zM185 185h28v.5h-28zM213.5 185h1.5v.5h-1.5zM215.5 185h2v.5h-2zM230.5 185h6v.5h-6zM237 185h2v.5h-2zM240 185h2v.5h-2zM243 185h1.5v.5h-1.5zM250.5 185h1.5v.5h-1.5zM185 185.5h28v.5h-28zM213.5 185.5h3v.5h-3zM232 185.5h3v.5h-3zM237 185.5h1.5v.5h-1.5zM240 185.5h3v.5h-3zM250.5 185.5h1.5v.5h-1.5zM185 186h31.5v.5h-31.5zM232 186h3v.5h-3zM241.5 186h1.5v.5h-1.5zM184.5 186.5h28v.5h-28zM213 186.5h4v.5h-4zM219 186.5h2v.5h-2zM232.5 186.5h2.5v.5h-2.5zM241.5 186.5h1.5v.5h-1.5zM184 187h27v.5h-27zM213 187h1.5v.5h-1.5zM215.5 187h1.5v.5h-1.5zM219 187h2v.5h-2zM233.5 187h1.5v.5h-1.5zM240.5 187h1.5v.5h-1.5zM243.5 187h1.5v.5h-1.5zM184 187.5h27v.5h-27zM213 187.5h4v.5h-4zM219 187.5h2v.5h-2zM233.5 187.5h1.5v.5h-1.5zM240.5 187.5h1.5v.5h-1.5zM243.5 187.5h1.5v.5h-1.5zM245.5 187.5h1.5v.5h-1.5zM184 188h27v.5h-27zM213 188h4v.5h-4zM233.5 188h1.5v.5h-1.5zM239.5 188h2.5v.5h-2.5zM243.5 188h1.5v.5h-1.5zM245.5 188h1.5v.5h-1.5zM185.5 188.5h25.5v.5h-25.5zM213 188.5h5v.5h-5zM230.5 188.5h1.5v.5h-1.5zM239.5 188.5h1.5v.5h-1.5zM243.5 188.5h1.5v.5h-1.5zM245.5 188.5h1.5v.5h-1.5zM186 189h4v.5h-4zM190.5 189h9v.5h-9zM200.5 189h3.5v.5h-3.5zM205.5 189h5v.5h-5zM213 189h5.5v.5h-5.5zM230.5 189h1.5v.5h-1.5zM239.5 189h1.5v.5h-1.5zM186.5 189.5h2.5v.5h-2.5zM191 189.5h2.5v.5h-2.5zM197 189.5h2.5v.5h-2.5zM205.5 189.5h5v.5h-5zM213 189.5h5.5v.5h-5.5zM230.5 189.5h1.5v.5h-1.5zM244 189.5h1.5v.5h-1.5zM187.5 190h1.5v.5h-1.5zM197 190h2.5v.5h-2.5zM205 190h2v.5h-2zM208 190h1.5v.5h-1.5zM217 190h1.5v.5h-1.5zM244 190h1.5v.5h-1.5zM187.5 190.5h1.5v.5h-1.5zM204 190.5h2.5v.5h-2.5zM244 190.5h1.5v.5h-1.5zM200.5 191h1.5v.5h-1.5zM204 191h2.5v.5h-2.5zM200.5 191.5h1.5v.5h-1.5zM204 191.5h1.5v.5h-1.5zM200.5 192h1.5v.5h-1.5zM348.5 173h1.5v.5h-1.5zM332.5 173.5h1.5v.5h-1.5zM341 173.5h1.5v.5h-1.5zM348.5 173.5h1.5v.5h-1.5zM357.5 173.5h1.5v.5h-1.5zM332.5 174h1.5v.5h-1.5zM341 174h1.5v.5h-1.5zM348.5 174h1.5v.5h-1.5zM357.5 174h1.5v.5h-1.5zM332.5 174.5h1.5v.5h-1.5zM339.5 174.5h3v.5h-3zM351.5 174.5h1.5v.5h-1.5zM355 174.5h1.5v.5h-1.5zM357.5 174.5h1.5v.5h-1.5zM339.5 175h1.5v.5h-1.5zM351.5 175h1.5v.5h-1.5zM354.5 175h3v.5h-3zM339.5 175.5h1.5v.5h-1.5zM344.5 175.5h1.5v.5h-1.5zM351.5 175.5h1.5v.5h-1.5zM354.5 175.5h3v.5h-3zM327.5 176h1.5v.5h-1.5zM330.5 176h3v.5h-3zM341 176h1.5v.5h-1.5zM344.5 176h1.5v.5h-1.5zM351 176h1.5v.5h-1.5zM354.5 176h4.5v.5h-4.5zM325 176.5h4v.5h-4zM330.5 176.5h3v.5h-3zM341 176.5h1.5v.5h-1.5zM344 176.5h2v.5h-2zM351 176.5h1.5v.5h-1.5zM357.5 176.5h1.5v.5h-1.5zM363.5 176.5h1.5v.5h-1.5zM325 177h4v.5h-4zM330.5 177h4.5v.5h-4.5zM336 177h1.5v.5h-1.5zM341 177h1.5v.5h-1.5zM344 177h1.5v.5h-1.5zM348 177h1.5v.5h-1.5zM351 177h1.5v.5h-1.5zM357.5 177h1.5v.5h-1.5zM362.5 177h2.5v.5h-2.5zM325 177.5h4.5v.5h-4.5zM331 177.5h2v.5h-2zM333.5 177.5h1.5v.5h-1.5zM336 177.5h1.5v.5h-1.5zM342.5 177.5h3v.5h-3zM346 177.5h1.5v.5h-1.5zM348 177.5h1.5v.5h-1.5zM356 177.5h2.5v.5h-2.5zM362.5 177.5h2.5v.5h-2.5zM321 178h1.5v.5h-1.5zM323.5 178h1.5v.5h-1.5zM326.5 178h3v.5h-3zM331 178h2v.5h-2zM333.5 178h4v.5h-4zM342.5 178h1.5v.5h-1.5zM346 178h1.5v.5h-1.5zM348 178h2.5v.5h-2.5zM352 178h9v.5h-9zM362 178h3.5v.5h-3.5zM321 178.5h1.5v.5h-1.5zM323.5 178.5h1.5v.5h-1.5zM326.5 178.5h3v.5h-3zM331 178.5h2v.5h-2zM335 178.5h2v.5h-2zM338.5 178.5h1v.5h-1zM341 178.5h5v.5h-5zM347.5 178.5h14v.5h-14zM362 178.5h1.5v.5h-1.5zM364 178.5h1.5v.5h-1.5zM320 179h2.5v.5h-2.5zM323.5 179h1.5v.5h-1.5zM327 179h1.5v.5h-1.5zM330 179h3v.5h-3zM335 179h2v.5h-2zM338 179h2v.5h-2zM341 179h2.5v.5h-2.5zM345 179h1v.5h-1zM347.5 179h11.5v.5h-11.5zM360.5 179h5v.5h-5zM320 179.5h2.5v.5h-2.5zM325 179.5h1.5v.5h-1.5zM329 179.5h3.5v.5h-3.5zM337.5 179.5h2.5v.5h-2.5zM341 179.5h2.5v.5h-2.5zM345 179.5h14v.5h-14zM360.5 179.5h5v.5h-5zM320 180h1.5v.5h-1.5zM325 180h1.5v.5h-1.5zM327 180h6.5v.5h-6.5zM334 180h3v.5h-3zM337.5 180h27.5v.5h-27.5zM320.5 180.5h6v.5h-6zM327 180.5h3.5v.5h-3.5zM331 180.5h2.5v.5h-2.5zM334 180.5h10.5v.5h-10.5zM346 180.5h3.5v.5h-3.5zM350 180.5h13v.5h-13zM364.5 180.5h0.5v.5h-0.5zM320.5 181h4.5v.5h-4.5zM326.5 181h4v.5h-4zM332 181h12.5v.5h-12.5zM346 181h12v.5h-12zM360.5 181h1v.5h-1zM364.5 181h1v.5h-1zM303.5 181.5h1.5v.5h-1.5zM320.5 181.5h4.5v.5h-4.5zM326.5 181.5h4v.5h-4zM331 181.5h26v.5h-26zM359.5 181.5h2v.5h-2zM363 181.5h2.5v.5h-2.5zM303.5 182h1.5v.5h-1.5zM319 182h1.5v.5h-1.5zM322 182h2.5v.5h-2.5zM326.5 182h4v.5h-4zM331 182h21.5v.5h-21.5zM354 182h1.5v.5h-1.5zM358.5 182h7v.5h-7zM301 182.5h1.5v.5h-1.5zM303 182.5h2v.5h-2zM319 182.5h1.5v.5h-1.5zM321.5 182.5h4v.5h-4zM326.5 182.5h1.5v.5h-1.5zM331 182.5h16.5v.5h-16.5zM348 182.5h7.5v.5h-7.5zM357 182.5h8.5v.5h-8.5zM301 183h1.5v.5h-1.5zM303 183h1.5v.5h-1.5zM319 183h1.5v.5h-1.5zM321 183h9v.5h-9zM332 183h2v.5h-2zM336 183h27v.5h-27zM363.5 183h2v.5h-2zM301 183.5h3.5v.5h-3.5zM321 183.5h9v.5h-9zM332 183.5h2.5v.5h-2.5zM336 183.5h12v.5h-12zM348.5 183.5h17v.5h-17zM301.5 184h1.5v.5h-1.5zM310 184h1.5v.5h-1.5zM314.5 184h1.5v.5h-1.5zM319 184h1.5v.5h-1.5zM321 184h1.5v.5h-1.5zM325.5 184h9v.5h-9zM335 184h13v.5h-13zM348.5 184h2.5v.5h-2.5zM352 184h13.5v.5h-13.5zM301.5 184.5h1.5v.5h-1.5zM310 184.5h1.5v.5h-1.5zM313 184.5h3v.5h-3zM319 184.5h2v.5h-2zM324.5 184.5h10v.5h-10zM335 184.5h1.5v.5h-1.5zM337 184.5h17v.5h-17zM355.5 184.5h10v.5h-10zM310 185h1.5v.5h-1.5zM313 185h3v.5h-3zM319 185h2v.5h-2zM321.5 185h1.5v.5h-1.5zM324.5 185h3v.5h-3zM329 185h5.5v.5h-5.5zM335 185h1.5v.5h-1.5zM337 185h17v.5h-17zM355.5 185h10v.5h-10zM305 185.5h1.5v.5h-1.5zM311.5 185.5h3v.5h-3zM319 185.5h2v.5h-2zM321.5 185.5h2.5v.5h-2.5zM324.5 185.5h3v.5h-3zM330.5 185.5h3v.5h-3zM334.5 185.5h9.5v.5h-9.5zM345.5 185.5h9v.5h-9zM355.5 185.5h10v.5h-10zM305 186h1.5v.5h-1.5zM311.5 186h1.5v.5h-1.5zM319 186h2v.5h-2zM321.5 186h2.5v.5h-2.5zM330.5 186h1.5v.5h-1.5zM334.5 186h8.5v.5h-8.5zM345.5 186h15v.5h-15zM362 186h3.5v.5h-3.5zM305 186.5h1.5v.5h-1.5zM307 186.5h1.5v.5h-1.5zM311.5 186.5h1.5v.5h-1.5zM322 186.5h2v.5h-2zM329.5 186.5h1.5v.5h-1.5zM334.5 186.5h8.5v.5h-8.5zM344.5 186.5h2v.5h-2zM348 186.5h12.5v.5h-12.5zM362 186.5h3.5v.5h-3.5zM307 187h1.5v.5h-1.5zM322 187h1.5v.5h-1.5zM324 187h2v.5h-2zM328 187h3v.5h-3zM332 187h1.5v.5h-1.5zM335 187h8v.5h-8zM344.5 187h2v.5h-2zM348 187h17.5v.5h-17.5zM306 187.5h2.5v.5h-2.5zM321.5 187.5h1.5v.5h-1.5zM323.5 187.5h2.5v.5h-2.5zM327.5 187.5h3.5v.5h-3.5zM332 187.5h2.5v.5h-2.5zM335 187.5h11v.5h-11zM347.5 187.5h17.5v.5h-17.5zM306 188h1.5v.5h-1.5zM311 188h1.5v.5h-1.5zM321.5 188h1.5v.5h-1.5zM323.5 188h7.5v.5h-7.5zM332 188h2.5v.5h-2.5zM335 188h6.5v.5h-6.5zM342 188h4v.5h-4zM347.5 188h17.5v.5h-17.5zM306 188.5h1.5v.5h-1.5zM311 188.5h1.5v.5h-1.5zM321.5 188.5h3.5v.5h-3.5zM325.5 188.5h5.5v.5h-5.5zM333 188.5h1.5v.5h-1.5zM335 188.5h1.5v.5h-1.5zM338 188.5h24v.5h-24zM363.5 188.5h1.5v.5h-1.5zM300.5 189h1.5v.5h-1.5zM311 189h1.5v.5h-1.5zM321 189h3.5v.5h-3.5zM325 189h3.5v.5h-3.5zM329 189h3v.5h-3zM335 189h1.5v.5h-1.5zM337 189h14.5v.5h-14.5zM352 189h13v.5h-13zM300.5 189.5h1.5v.5h-1.5zM307.5 189.5h1.5v.5h-1.5zM321 189.5h5.5v.5h-5.5zM329 189.5h3v.5h-3zM335 189.5h16.5v.5h-16.5zM352 189.5h3v.5h-3zM356.5 189.5h9v.5h-9zM300.5 190h1.5v.5h-1.5zM307.5 190h1.5v.5h-1.5zM319 190h1.5v.5h-1.5zM321 190h5.5v.5h-5.5zM329.5 190h2.5v.5h-2.5zM332.5 190h1.5v.5h-1.5zM336 190h15v.5h-15zM352 190h3v.5h-3zM356.5 190h4.5v.5h-4.5zM361.5 190h4v.5h-4zM307.5 190.5h1.5v.5h-1.5zM319 190.5h2.5v.5h-2.5zM323 190.5h2v.5h-2zM329.5 190.5h1.5v.5h-1.5zM332.5 190.5h1.5v.5h-1.5zM336 190.5h7.5v.5h-7.5zM344.5 190.5h7v.5h-7zM352 190.5h9v.5h-9zM361.5 190.5h4v.5h-4zM319 191h2.5v.5h-2.5zM323 191h2v.5h-2zM325.5 191h1.5v.5h-1.5zM327.5 191h1.5v.5h-1.5zM331.5 191h2.5v.5h-2.5zM336.5 191h29v.5h-29zM320 191.5h1.5v.5h-1.5zM323 191.5h2v.5h-2zM325.5 191.5h1.5v.5h-1.5zM327.5 191.5h1.5v.5h-1.5zM331.5 191.5h2.5v.5h-2.5zM337 191.5h20v.5h-20zM357.5 191.5h8v.5h-8zM323.5 192h1.5v.5h-1.5zM325.5 192h1.5v.5h-1.5zM327.5 192h1.5v.5h-1.5zM331.5 192h3v.5h-3zM335.5 192h30v.5h-30zM332.5 192.5h2v.5h-2zM335.5 192.5h16v.5h-16zM352 192.5h13v.5h-13zM333 193h1.5v.5h-1.5zM335.5 193h6.5v.5h-6.5zM343 193h8.5v.5h-8.5zM352 193h13v.5h-13zM337 193.5h1.5v.5h-1.5zM342 193.5h1.5v.5h-1.5zM346.5 193.5h1.5v.5h-1.5zM353.5 193.5h1.5v.5h-1.5zM360.5 193.5h4v.5h-4zM342 194h1.5v.5h-1.5zM353.5 194h1.5v.5h-1.5zM361 194h3v.5h-3zM342 194.5h1.5v.5h-1.5zM361 194.5h1.5v.5h-1.5zM454 169h1.5v.5h-1.5zM457 169h2.5v.5h-2.5zM473.5 169h1.5v.5h-1.5zM451.5 169.5h5v.5h-5zM457 169.5h4.5v.5h-4.5zM473.5 169.5h1.5v.5h-1.5zM451.5 170h16.5v.5h-16.5zM473.5 170h1.5v.5h-1.5zM449.5 170.5h20.5v.5h-20.5zM447.5 171h23v.5h-23zM447 171.5h26v.5h-26zM431.5 172h1.5v.5h-1.5zM446.5 172h29v.5h-29zM431.5 172.5h1.5v.5h-1.5zM446 172.5h30v.5h-30zM431.5 173h1.5v.5h-1.5zM445.5 173h31v.5h-31zM445 173.5h33v.5h-33zM434 174h1.5v.5h-1.5zM445 174h15.5v.5h-15.5zM461 174h18v.5h-18zM434 174.5h1.5v.5h-1.5zM445 174.5h34v.5h-34zM434 175h1.5v.5h-1.5zM445 175h35v.5h-35zM430 175.5h1.5v.5h-1.5zM445 175.5h35v.5h-35zM430 176h1.5v.5h-1.5zM445.5 176h34.5v.5h-34.5zM430 176.5h2.5v.5h-2.5zM445.5 176.5h24v.5h-24zM470 176.5h10v.5h-10zM431 177h1.5v.5h-1.5zM434 177h1.5v.5h-1.5zM445.5 177h34.5v.5h-34.5zM426 177.5h1.5v.5h-1.5zM431 177.5h1.5v.5h-1.5zM434 177.5h1.5v.5h-1.5zM445.5 177.5h34.5v.5h-34.5zM426 178h1.5v.5h-1.5zM428.5 178h1.5v.5h-1.5zM434 178h1.5v.5h-1.5zM445.5 178h35v.5h-35zM426 178.5h1.5v.5h-1.5zM428.5 178.5h1.5v.5h-1.5zM439.5 178.5h1.5v.5h-1.5zM445.5 178.5h35v.5h-35zM423.5 179h1.5v.5h-1.5zM428.5 179h2v.5h-2zM439.5 179h1.5v.5h-1.5zM445.5 179h35v.5h-35zM423.5 179.5h1.5v.5h-1.5zM429 179.5h1.5v.5h-1.5zM437 179.5h1.5v.5h-1.5zM439.5 179.5h1.5v.5h-1.5zM445 179.5h35.5v.5h-35.5zM423.5 180h1.5v.5h-1.5zM429 180h1.5v.5h-1.5zM437 180h1.5v.5h-1.5zM445 180h35.5v.5h-35.5zM437 180.5h1.5v.5h-1.5zM445 180.5h35.5v.5h-35.5zM413.5 181h1.5v.5h-1.5zM445 181h35.5v.5h-35.5zM413.5 181.5h1.5v.5h-1.5zM423.5 181.5h1.5v.5h-1.5zM440.5 181.5h1.5v.5h-1.5zM445 181.5h35.5v.5h-35.5zM413.5 182h1.5v.5h-1.5zM423.5 182h1.5v.5h-1.5zM440.5 182h1.5v.5h-1.5zM445 182h35v.5h-35zM423.5 182.5h1.5v.5h-1.5zM440.5 182.5h1.5v.5h-1.5zM445 182.5h35v.5h-35zM445 183h5v.5h-5zM450.5 183h29.5v.5h-29.5zM428 183.5h1.5v.5h-1.5zM440 183.5h1.5v.5h-1.5zM445 183.5h35.5v.5h-35.5zM428 184h1.5v.5h-1.5zM440 184h1.5v.5h-1.5zM445 184h35.5v.5h-35.5zM428 184.5h2.5v.5h-2.5zM433 184.5h1.5v.5h-1.5zM440 184.5h1.5v.5h-1.5zM445 184.5h35.5v.5h-35.5zM429 185h1.5v.5h-1.5zM433 185h1.5v.5h-1.5zM445.5 185h34.5v.5h-34.5zM429 185.5h1.5v.5h-1.5zM433 185.5h1.5v.5h-1.5zM441 185.5h1.5v.5h-1.5zM445.5 185.5h34.5v.5h-34.5zM432 186h1.5v.5h-1.5zM441 186h1.5v.5h-1.5zM445 186h35v.5h-35zM432 186.5h1.5v.5h-1.5zM441 186.5h1.5v.5h-1.5zM443 186.5h1.5v.5h-1.5zM445 186.5h35v.5h-35zM432 187h1.5v.5h-1.5zM443 187h1.5v.5h-1.5zM445 187h35.5v.5h-35.5zM443 187.5h1.5v.5h-1.5zM445 187.5h35.5v.5h-35.5zM430 188h1.5v.5h-1.5zM432 188h1.5v.5h-1.5zM445 188h35.5v.5h-35.5zM430 188.5h1.5v.5h-1.5zM432 188.5h1.5v.5h-1.5zM445 188.5h35.5v.5h-35.5zM425.5 189h1.5v.5h-1.5zM430 189h1.5v.5h-1.5zM432 189h1.5v.5h-1.5zM445.5 189h2v.5h-2zM448.5 189h32v.5h-32zM425.5 189.5h1.5v.5h-1.5zM445.5 189.5h2v.5h-2zM448.5 189.5h32v.5h-32zM425.5 190h1.5v.5h-1.5zM446 190h2v.5h-2zM448.5 190h31.5v.5h-31.5zM446.5 190.5h1.5v.5h-1.5zM449.5 190.5h30.5v.5h-30.5zM446.5 191h1.5v.5h-1.5zM449.5 191h2.5v.5h-2.5zM453 191h27v.5h-27zM449.5 191.5h2.5v.5h-2.5zM453 191.5h5.5v.5h-5.5zM459 191.5h3.5v.5h-3.5zM463.5 191.5h5v.5h-5zM471.5 191.5h1.5v.5h-1.5zM476.5 191.5h1.5v.5h-1.5zM450.5 192h1.5v.5h-1.5zM455 192h2v.5h-2zM464 192h1.5v.5h-1.5zM476.5 192h1.5v.5h-1.5zM450.5 192.5h1.5v.5h-1.5zM476.5 192.5h1.5v.5h-1.5zM453 193h1.5v.5h-1.5zM453 193.5h1.5v.5h-1.5zM453 194h1.5v.5h-1.5z" fill="#050505"/>
<text transform="translate(28.9,62.8) rotate(-90)" font-size="11.6" text-anchor="middle" fill="#222" textLength="16.2" lengthAdjust="spacingAndGlyphs">CD4</text>
<text transform="translate(29.0,187.4) rotate(-90)" font-size="11.6" text-anchor="middle" fill="#222" textLength="17" lengthAdjust="spacingAndGlyphs">CD8</text>
<line x1="25.50" y1="134.00" x2="25.50" y2="84.00" stroke="#222" stroke-width="1.5"/>
<path d="M22.6 85.6 L25.5 78.5 L28.4 85.6Z" fill="#222"/>
<line x1="25.50" y1="255.40" x2="25.50" y2="205.00" stroke="#222" stroke-width="1.5"/>
<path d="M22.6 207.0 L25.5 200.2 L28.4 207.0Z" fill="#222"/>
<line x1="25.50" y1="286.00" x2="413.00" y2="286.00" stroke="#222" stroke-width="1.5"/>
<path d="M411.8 283 L418.8 286 L411.8 289Z" fill="#222"/>
<text x="427" y="289.7" font-size="10" fill="#222" textLength="20" lengthAdjust="spacingAndGlyphs">CFSE</text>
<text x="7.30" y="319.10" font-size="12.4" text-anchor="start" font-weight="bold" fill="#111" >B</text>
<text x="97.60" y="333.40" font-size="10.4" text-anchor="middle" font-weight="normal" fill="#222" >5d</text>
<text x="280.20" y="334.50" font-size="10.4" text-anchor="middle" font-weight="normal" fill="#222" >7d</text>
<path d="M40.5 465.3 L40.5 457.0 L42.0 464.3 L45.0 464.5 L50.0 464.0 L52.0 463.2 L55.0 464.2 L58.0 464.0 L60.0 464.0 L64.0 462.0 L68.1 459.2 L73.5 453.8 L76.2 448.5 L78.2 444.4 L79.5 440.0 L80.2 436.3 L81.5 435.7 L82.9 436.3 L84.2 435.0 L85.6 432.3 L86.9 426.9 L88.9 421.5 L91.0 413.5 L92.3 406.7 L93.6 400.0 L95.0 392.0 L96.3 385.0 L97.7 370.0 L99.0 360.0 L100.0 356.5 L101.0 359.0 L102.0 370.0 L103.5 385.0 L104.4 400.0 L106.4 413.5 L108.5 433.6 L110.5 447.1 L112.5 456.5 L113.8 461.9 L115.2 463.3 L118.0 464.5 L175.0 465.3Z" fill="#c6c6c6" stroke="none"/>
<path d="M40.5 465.3 L40.5 457.0 L42.0 464.3 L45.0 464.5 L50.0 464.0 L52.0 463.2 L55.0 464.2 L58.0 464.0 L60.0 464.0 L64.0 462.0 L68.1 459.2 L73.5 453.8 L76.2 448.5 L78.2 444.4 L79.5 440.0 L80.2 436.3 L81.5 435.7 L82.9 436.3 L84.2 435.0 L85.6 432.3 L86.9 426.9 L88.9 421.5 L91.0 413.5 L92.3 406.7 L93.6 400.0 L95.0 392.0 L96.3 385.0 L97.7 370.0 L99.0 360.0 L100.0 356.5 L101.0 359.0 L102.0 370.0 L103.5 385.0 L104.4 400.0 L106.4 413.5 L108.5 433.6 L110.5 447.1 L112.5 456.5 L113.8 461.9 L115.2 463.3 L118.0 464.5 L175.0 465.3" fill="none" stroke="#6b6b6b" stroke-width="1.15" stroke-linejoin="round"/>
<path d="M40.5 465.0 L40.5 458.0 L42.0 464.5 L50.0 464.6 L60.0 464.2 L66.0 462.0 L73.5 457.9 L78.8 453.8 L82.9 447.1 L84.9 440.4 L86.9 431.0 L88.9 424.2 L91.6 413.5 L93.0 400.0 L95.0 392.0 L96.5 389.0 L97.5 390.0 L98.5 386.0 L100.0 384.0 L101.0 383.0 L102.0 385.0 L103.5 391.0 L105.0 400.0 L107.8 426.9 L109.8 444.4 L112.5 456.5 L114.5 462.2 L117.0 464.0 L175.0 464.5" fill="none" stroke="#3f5f88" stroke-width="1.35" stroke-linejoin="round"/>
<path d="M40.5 465.0 L40.5 455.0 L42.0 464.7 L50.0 464.8 L60.0 464.6 L68.0 463.2 L76.2 457.9 L82.9 453.8 L86.9 447.1 L91.0 440.4 L93.0 426.9 L95.0 420.2 L97.7 410.8 L99.7 400.0 L101.0 394.0 L102.3 390.0 L103.5 387.0 L104.5 382.0 L105.5 379.0 L106.7 377.9 L107.8 380.0 L109.0 390.0 L110.5 400.0 L111.8 413.5 L113.2 433.6 L114.5 451.1 L115.9 459.2 L117.2 462.6 L119.0 464.5 L175.0 465.0" fill="none" stroke="#b3174a" stroke-width="1.35" stroke-linejoin="round"/>
<rect x="40.20" y="339.20" width="135.20" height="126.10" fill="none" stroke="#222" stroke-width="1.1"/>
<text x="33.70" y="468.40" font-size="8.8" text-anchor="end" font-weight="normal" fill="#222" >0</text>
<text x="33.70" y="444.80" font-size="8.8" text-anchor="end" font-weight="normal" fill="#222" >50</text>
<text x="33.70" y="421.20" font-size="8.8" text-anchor="end" font-weight="normal" fill="#222" >100</text>
<text x="33.70" y="397.60" font-size="8.8" text-anchor="end" font-weight="normal" fill="#222" >150</text>
<text x="33.70" y="374.00" font-size="8.8" text-anchor="end" font-weight="normal" fill="#222" >200</text>
<text x="33.70" y="350.40" font-size="8.8" text-anchor="end" font-weight="normal" fill="#222" >250</text>
<path d="M40.20 465.30h-3M40.20 460.58h-1.6M40.20 455.86h-1.6M40.20 451.14h-1.6M40.20 446.42h-1.6M40.20 441.70h-3M40.20 436.98h-1.6M40.20 432.26h-1.6M40.20 427.54h-1.6M40.20 422.82h-1.6M40.20 418.10h-3M40.20 413.38h-1.6M40.20 408.66h-1.6M40.20 403.94h-1.6M40.20 399.22h-1.6M40.20 394.50h-3M40.20 389.78h-1.6M40.20 385.06h-1.6M40.20 380.34h-1.6M40.20 375.62h-1.6M40.20 370.90h-3M40.20 366.18h-1.6M40.20 361.46h-1.6M40.20 356.74h-1.6M40.20 352.02h-1.6M40.20 347.30h-3M40.20 342.58h-1.6M40.20 465.30v3M47.30 465.30v1.6M51.46 465.30v1.6M54.41 465.30v1.6M56.70 465.30v1.6M58.56 465.30v1.6M60.14 465.30v1.6M61.51 465.30v1.6M62.72 465.30v1.6M63.80 465.30v3M71.45 465.30v1.6M75.92 465.30v1.6M79.09 465.30v1.6M81.55 465.30v1.6M83.57 465.30v1.6M85.27 465.30v1.6M86.74 465.30v1.6M88.04 465.30v1.6M89.20 465.30v3M96.85 465.30v1.6M101.32 465.30v1.6M104.49 465.30v1.6M106.95 465.30v1.6M108.97 465.30v1.6M110.67 465.30v1.6M112.14 465.30v1.6M113.44 465.30v1.6M114.60 465.30v3M122.01 465.30v1.6M126.34 465.30v1.6M129.41 465.30v1.6M131.79 465.30v1.6M133.74 465.30v1.6M135.39 465.30v1.6M136.82 465.30v1.6M138.07 465.30v1.6M139.20 465.30v3M146.61 465.30v1.6M150.94 465.30v1.6M154.01 465.30v1.6M156.39 465.30v1.6M158.34 465.30v1.6M159.99 465.30v1.6M161.42 465.30v1.6M162.67 465.30v1.6M163.80 465.30v3" stroke="#222" stroke-width="0.9" fill="none"/>
<text x="47.40" y="480.10" font-size="8.0" text-anchor="middle" font-weight="normal" fill="#222" >10<tspan font-size="4.96" dy="-3.04">0</tspan></text>
<text x="65.20" y="480.10" font-size="8.0" text-anchor="middle" font-weight="normal" fill="#222" >10<tspan font-size="4.96" dy="-3.04">1</tspan></text>
<text x="89.20" y="480.10" font-size="8.0" text-anchor="middle" font-weight="normal" fill="#222" >10<tspan font-size="4.96" dy="-3.04">2</tspan></text>
<text x="114.00" y="480.10" font-size="8.0" text-anchor="middle" font-weight="normal" fill="#222" >10<tspan font-size="4.96" dy="-3.04">3</tspan></text>
<text x="138.80" y="480.10" font-size="8.0" text-anchor="middle" font-weight="normal" fill="#222" >10<tspan font-size="4.96" dy="-3.04">4</tspan></text>
<text x="163.40" y="480.10" font-size="8.0" text-anchor="middle" font-weight="normal" fill="#222" >10<tspan font-size="4.96" dy="-3.04">5</tspan></text>
<path d="M212.8 464.6 L212.8 455.0 L214.5 464.0 L225.0 464.2 L236.7 463.4 L243.5 462.0 L250.2 460.5 L255.0 458.0 L258.3 457.3 L261.5 454.0 L263.9 447.6 L266.4 434.6 L268.0 415.0 L269.6 390.7 L271.3 366.3 L273.4 353.3 L275.3 366.3 L277.0 382.5 L278.6 398.8 L279.4 415.0 L280.2 431.3 L281.0 447.6 L282.6 460.6 L285.0 463.8 L288.0 464.5 L347.0 464.6Z" fill="#c6c6c6" stroke="none"/>
<path d="M212.8 464.6 L212.8 455.0 L214.5 464.0 L225.0 464.2 L236.7 463.4 L243.5 462.0 L250.2 460.5 L255.0 458.0 L258.3 457.3 L261.5 454.0 L263.9 447.6 L266.4 434.6 L268.0 415.0 L269.6 390.7 L271.3 366.3 L273.4 353.3 L275.3 366.3 L277.0 382.5 L278.6 398.8 L279.4 415.0 L280.2 431.3 L281.0 447.6 L282.6 460.6 L285.0 463.8 L288.0 464.5 L347.0 464.6" fill="none" stroke="#6b6b6b" stroke-width="1.15" stroke-linejoin="round"/>
<path d="M212.8 464.6 L212.8 456.0 L214.5 464.2 L225.0 464.2 L236.7 463.4 L250.2 459.2 L257.4 455.7 L260.7 454.0 L264.0 450.8 L268.0 444.3 L271.3 431.3 L273.7 415.0 L276.1 387.4 L277.0 381.0 L278.3 378.5 L279.2 381.0 L281.0 398.8 L282.6 423.0 L284.3 447.6 L286.7 463.0 L290.0 464.3 L347.0 464.6" fill="none" stroke="#3f5f88" stroke-width="1.35" stroke-linejoin="round"/>
<path d="M212.8 464.6 L212.8 453.0 L214.5 464.3 L225.0 464.4 L236.7 463.8 L250.2 459.9 L257.4 456.5 L261.5 457.3 L265.6 455.7 L269.6 446.0 L272.9 431.3 L275.3 415.0 L277.8 393.9 L279.4 388.2 L281.0 391.5 L282.6 391.0 L284.3 398.8 L285.9 423.0 L287.5 447.6 L290.0 463.0 L293.0 464.3 L347.0 464.6" fill="none" stroke="#b3174a" stroke-width="1.35" stroke-linejoin="round"/>
<rect x="212.30" y="340.80" width="135.40" height="124.00" fill="none" stroke="#222" stroke-width="1.1"/>
<text x="205.80" y="467.90" font-size="8.8" text-anchor="end" font-weight="normal" fill="#222" >0</text>
<text x="205.80" y="431.50" font-size="8.8" text-anchor="end" font-weight="normal" fill="#222" >100</text>
<text x="205.80" y="395.10" font-size="8.8" text-anchor="end" font-weight="normal" fill="#222" >200</text>
<text x="205.80" y="358.70" font-size="8.8" text-anchor="end" font-weight="normal" fill="#222" >300</text>
<path d="M212.30 464.80h-3M212.30 457.52h-1.6M212.30 450.24h-1.6M212.30 442.96h-1.6M212.30 435.68h-1.6M212.30 428.40h-3M212.30 421.12h-1.6M212.30 413.84h-1.6M212.30 406.56h-1.6M212.30 399.28h-1.6M212.30 392.00h-3M212.30 384.72h-1.6M212.30 377.44h-1.6M212.30 370.16h-1.6M212.30 362.88h-1.6M212.30 355.60h-3M212.30 348.32h-1.6M212.30 464.80v3M219.62 464.80v1.6M223.89 464.80v1.6M226.93 464.80v1.6M229.28 464.80v1.6M231.21 464.80v1.6M232.84 464.80v1.6M234.25 464.80v1.6M235.49 464.80v1.6M236.60 464.80v3M244.07 464.80v1.6M248.43 464.80v1.6M251.53 464.80v1.6M253.93 464.80v1.6M255.90 464.80v1.6M257.56 464.80v1.6M259.00 464.80v1.6M260.27 464.80v1.6M261.40 464.80v3M268.81 464.80v1.6M273.14 464.80v1.6M276.21 464.80v1.6M278.59 464.80v1.6M280.54 464.80v1.6M282.19 464.80v1.6M283.62 464.80v1.6M284.87 464.80v1.6M286.00 464.80v3M293.47 464.80v1.6M297.83 464.80v1.6M300.93 464.80v1.6M303.33 464.80v1.6M305.30 464.80v1.6M306.96 464.80v1.6M308.40 464.80v1.6M309.67 464.80v1.6M310.80 464.80v3M318.21 464.80v1.6M322.54 464.80v1.6M325.61 464.80v1.6M327.99 464.80v1.6M329.94 464.80v1.6M331.59 464.80v1.6M333.02 464.80v1.6M334.27 464.80v1.6M335.40 464.80v3" stroke="#222" stroke-width="0.9" fill="none"/>
<text x="220.00" y="479.60" font-size="8.0" text-anchor="middle" font-weight="normal" fill="#222" >10<tspan font-size="4.96" dy="-3.04">0</tspan></text>
<text x="236.50" y="479.60" font-size="8.0" text-anchor="middle" font-weight="normal" fill="#222" >10<tspan font-size="4.96" dy="-3.04">1</tspan></text>
<text x="261.80" y="479.60" font-size="8.0" text-anchor="middle" font-weight="normal" fill="#222" >10<tspan font-size="4.96" dy="-3.04">2</tspan></text>
<text x="286.00" y="479.60" font-size="8.0" text-anchor="middle" font-weight="normal" fill="#222" >10<tspan font-size="4.96" dy="-3.04">3</tspan></text>
<text x="311.30" y="479.60" font-size="8.0" text-anchor="middle" font-weight="normal" fill="#222" >10<tspan font-size="4.96" dy="-3.04">4</tspan></text>
<text x="336.50" y="479.60" font-size="8.0" text-anchor="middle" font-weight="normal" fill="#222" >10<tspan font-size="4.96" dy="-3.04">5</tspan></text>
<rect x="354.3" y="374.3" width="6.4" height="6" fill="#c6c6c6" stroke="#6b6b6b" stroke-width="0.9"/>
<rect x="354.3" y="385.3" width="6.4" height="6" fill="#fff" stroke="#b3174a" stroke-width="0.9"/>
<rect x="354.3" y="396.6" width="6.4" height="6" fill="#fff" stroke="#3f5f88" stroke-width="0.9"/>
<text x="364.00" y="379.70" font-size="8.3" text-anchor="start" font-weight="normal" fill="#222" >Control</text>
<text x="364.00" y="390.80" font-size="8.3" text-anchor="start" font-weight="normal" fill="#222" textLength="57.4" lengthAdjust="spacingAndGlyphs">RANKL+M-CSF</text>
<text x="364.00" y="402.10" font-size="8.3" text-anchor="start" font-weight="normal" fill="#222" textLength="107.6" lengthAdjust="spacingAndGlyphs">RANKL+M-CSF SAR 1 μg/mL</text>
<line x1="53.00" y1="489.80" x2="272.00" y2="489.80" stroke="#333" stroke-width="1.4"/>
<path d="M270.8 487.0 L277.6 489.8 L270.8 492.6Z" fill="#222"/>
<text x="289.6" y="493.2" font-size="9.7" fill="#222" textLength="23.6" lengthAdjust="spacingAndGlyphs">HVEM</text>
<text x="7.60" y="521.80" font-size="12.4" text-anchor="start" font-weight="bold" fill="#111" >C</text>
<text x="18.30" y="554.50" font-size="8.8" text-anchor="start" font-weight="normal" fill="#222" >SAR</text>
<line x1="61.30" y1="551.00" x2="75.00" y2="551.00" stroke="#111" stroke-width="1.4"/>
<text transform="translate(127.4,558.0) rotate(-40)" font-size="9.6" fill="#222">0.1ug/mL</text>
<text transform="translate(192.8,557.5) rotate(-40)" font-size="9.6" fill="#222">1ug/mL</text>
<rect x="37.3" y="560.4" width="184.9" height="89.2" fill="#f3f3f3"/>
<clipPath id="cb"><rect x="37.8" y="560.9" width="184" height="88.2"/></clipPath>
<g clip-path="url(#cb)">
<rect x="46.50" y="568.20" width="37.00" height="13.80" rx="4.70" fill="#000" opacity="0.18" filter="url(#b2)"/>
<rect x="48.00" y="570.00" width="34.00" height="10.20" rx="3.20" fill="#000" opacity="1.0" filter="url(#b1)"/>
<rect x="68.50" y="569.40" width="31.50" height="12.00" rx="4.70" fill="#000" opacity="0.18" filter="url(#b2)"/>
<rect x="70.00" y="571.20" width="28.50" height="8.40" rx="3.20" fill="#000" opacity="1.0" filter="url(#b1)"/>
<rect x="108.80" y="570.50" width="48.20" height="11.80" rx="4.70" fill="#000" opacity="0.18" filter="url(#b2)"/>
<rect x="110.30" y="572.30" width="45.20" height="8.20" rx="3.20" fill="#000" opacity="1.0" filter="url(#b1)"/>
<rect x="166.50" y="572.00" width="45.50" height="10.00" rx="4.70" fill="#222" opacity="0.18" filter="url(#b2)"/>
<rect x="168.00" y="573.80" width="42.50" height="6.40" rx="3.20" fill="#222" opacity="1.0" filter="url(#b1)"/>
<rect x="188.50" y="572.40" width="23.00" height="9.20" rx="4.30" fill="#000" opacity="0.11" filter="url(#b2)"/>
<rect x="190.00" y="574.20" width="20.00" height="5.60" rx="2.80" fill="#000" opacity="0.6" filter="url(#b1)"/>
<rect x="46.80" y="601.00" width="17.70" height="13.60" rx="4.70" fill="#000" opacity="0.18" filter="url(#b2)"/>
<rect x="48.30" y="602.80" width="14.70" height="10.00" rx="3.20" fill="#000" opacity="1.0" filter="url(#b1)"/>
<rect x="56.50" y="603.40" width="35.00" height="11.40" rx="4.70" fill="#151515" opacity="0.18" filter="url(#b2)"/>
<rect x="58.00" y="605.20" width="32.00" height="7.80" rx="3.20" fill="#151515" opacity="1.0" filter="url(#b1)"/>
<rect x="104.00" y="603.20" width="18.50" height="12.60" rx="4.70" fill="#000" opacity="0.18" filter="url(#b2)"/>
<rect x="105.50" y="605.00" width="15.50" height="9.00" rx="3.20" fill="#000" opacity="1.0" filter="url(#b1)"/>
<rect x="114.50" y="605.00" width="37.50" height="10.20" rx="4.70" fill="#2a2a2a" opacity="0.18" filter="url(#b2)"/>
<rect x="116.00" y="606.80" width="34.50" height="6.60" rx="3.20" fill="#2a2a2a" opacity="1.0" filter="url(#b1)"/>
<rect x="167.50" y="605.20" width="34.00" height="9.10" rx="4.25" fill="#aaa" opacity="0.14" filter="url(#b2)"/>
<rect x="169.00" y="607.00" width="31.00" height="5.50" rx="2.75" fill="#aaa" opacity="0.8" filter="url(#b1)"/>
<rect x="186.50" y="604.20" width="26.00" height="10.20" rx="4.70" fill="#808080" opacity="0.15" filter="url(#b2)"/>
<rect x="188.00" y="606.00" width="23.00" height="6.60" rx="3.20" fill="#808080" opacity="0.85" filter="url(#b1)"/>
<rect x="47.70" y="631.70" width="50.10" height="14.30" rx="4.70" fill="#000" opacity="0.18" filter="url(#b2)"/>
<rect x="49.20" y="633.50" width="47.10" height="10.70" rx="3.20" fill="#000" opacity="1.0" filter="url(#b1)"/>
<g transform="rotate(-1.5 130 637.5)">
<rect x="104.00" y="630.40" width="53.00" height="14.40" rx="4.70" fill="#000" opacity="0.18" filter="url(#b2)"/>
<rect x="105.50" y="632.20" width="50.00" height="10.80" rx="3.20" fill="#000" opacity="1.0" filter="url(#b1)"/>
</g><g transform="rotate(-3 190 634)">
<rect x="164.00" y="626.70" width="52.00" height="14.60" rx="4.70" fill="#000" opacity="0.18" filter="url(#b2)"/>
<rect x="165.50" y="628.50" width="49.00" height="11.00" rx="3.20" fill="#000" opacity="1.0" filter="url(#b1)"/>
</g>
</g>
<rect x="37.3" y="560.4" width="184.9" height="89.2" fill="none" stroke="#111" stroke-width="1.3"/>
<line x1="37.30" y1="590.10" x2="222.20" y2="590.10" stroke="#111" stroke-width="1.6"/>
<line x1="37.30" y1="620.20" x2="222.20" y2="620.20" stroke="#111" stroke-width="1.6"/>
<line x1="34.20" y1="574.40" x2="44.40" y2="574.40" stroke="#111" stroke-width="1.2"/>
<text x="18.30" y="577.80" font-size="8.6" text-anchor="start" font-weight="normal" fill="#222" >45</text>
<line x1="32.30" y1="604.60" x2="43.00" y2="604.60" stroke="#111" stroke-width="1.2"/>
<text x="18.30" y="608.00" font-size="8.6" text-anchor="start" font-weight="normal" fill="#222" >30</text>
<line x1="33.00" y1="633.00" x2="43.80" y2="633.00" stroke="#111" stroke-width="1.2"/>
<text x="18.30" y="636.40" font-size="8.6" text-anchor="start" font-weight="normal" fill="#222" >37</text>
<line x1="222.80" y1="575.60" x2="233.40" y2="575.60" stroke="#111" stroke-width="1.2"/>
<text x="235.60" y="578.90" font-size="8.6" text-anchor="start" font-weight="normal" fill="#222" >CD38</text>
<line x1="222.80" y1="605.10" x2="233.40" y2="605.10" stroke="#111" stroke-width="1.2"/>
<text x="235.60" y="608.40" font-size="8.6" text-anchor="start" font-weight="normal" fill="#222" >HVEM</text>
<line x1="222.80" y1="635.20" x2="233.40" y2="635.20" stroke="#111" stroke-width="1.2"/>
<text x="235.60" y="638.50" font-size="8.6" text-anchor="start" font-weight="normal" fill="#222" >GAPDH</text>
<text x="281.00" y="522.50" font-size="12.4" text-anchor="start" font-weight="bold" fill="#111" >D</text>
<rect x="369" y="608.08" width="15.40" height="94.52" fill="#bdbdbd"/>
<line x1="376.70" y1="608.08" x2="376.70" y2="597.30" stroke="#222" stroke-width="1.1"/>
<line x1="374.10" y1="597.30" x2="379.30" y2="597.30" stroke="#222" stroke-width="1.1"/>
<rect x="407" y="560.48" width="15.60" height="142.12" fill="#686868"/>
<line x1="414.80" y1="560.48" x2="414.80" y2="555.00" stroke="#222" stroke-width="1.1"/>
<line x1="412.20" y1="555.00" x2="417.40" y2="555.00" stroke="#222" stroke-width="1.1"/>
<rect x="445" y="560.48" width="15.50" height="142.12" fill="#a8002a"/>
<line x1="452.75" y1="560.48" x2="452.75" y2="549.60" stroke="#222" stroke-width="1.1"/>
<line x1="450.15" y1="549.60" x2="455.35" y2="549.60" stroke="#222" stroke-width="1.1"/>
<rect x="483.3" y="628.48" width="15.30" height="74.12" fill="#050505"/>
<line x1="490.95" y1="628.48" x2="490.95" y2="617.50" stroke="#222" stroke-width="1.1"/>
<line x1="488.35" y1="617.50" x2="493.55" y2="617.50" stroke="#222" stroke-width="1.1"/>
<line x1="357.60" y1="529.80" x2="357.60" y2="703.20" stroke="#222" stroke-width="1.1"/>
<line x1="357.10" y1="702.60" x2="512.00" y2="702.60" stroke="#222" stroke-width="1.1"/>
<text x="351.60" y="705.60" font-size="8.6" text-anchor="end" font-weight="normal" fill="#222" >0</text>
<text x="351.60" y="671.60" font-size="8.6" text-anchor="end" font-weight="normal" fill="#222" >0.0005</text>
<text x="351.60" y="637.60" font-size="8.6" text-anchor="end" font-weight="normal" fill="#222" >0.001</text>
<text x="351.60" y="603.60" font-size="8.6" text-anchor="end" font-weight="normal" fill="#222" >0.0015</text>
<text x="351.60" y="569.60" font-size="8.6" text-anchor="end" font-weight="normal" fill="#222" >0.002</text>
<text x="351.60" y="535.60" font-size="8.6" text-anchor="end" font-weight="normal" fill="#222" >0.0025</text>
<path d="M357.6 702.60h-3.2M357.6 668.60h-3.2M357.6 634.60h-3.2M357.6 600.60h-3.2M357.6 566.60h-3.2M357.6 532.60h-3.2M395.6 702.6v3M433.6 702.6v3M471.7 702.6v3M510.3 702.6v3" stroke="#222" stroke-width="1" fill="none"/>
<path d="M374.8 596.5 V542.9 H412.5 V551" fill="none" stroke="#222" stroke-width="1.1"/>
<path d="M416.5 551 V541.5 H489.3 V600.8" fill="none" stroke="#222" stroke-width="1.1"/>
<text x="393.70" y="541.30" font-size="8" text-anchor="middle" font-weight="normal" fill="#222" >*</text>
<text x="452.90" y="540.00" font-size="8" text-anchor="middle" font-weight="normal" fill="#222" >**</text>
<text transform="translate(320.7,616.1) rotate(-90)" font-size="11.2" text-anchor="middle" fill="#222" textLength="48" lengthAdjust="spacingAndGlyphs">IDO/GAPDH</text>
<text x="350.6" y="718.2" font-size="9.6" text-anchor="end" fill="#222" textLength="58.6" lengthAdjust="spacingAndGlyphs">RANKL+M-CSF</text>
<text x="350.90" y="730.20" font-size="9.2" text-anchor="end" font-weight="normal" fill="#222" >SAR</text>
<text x="376.70" y="718.30" font-size="8.5" text-anchor="middle" font-weight="normal" fill="#222" >–</text>
<text x="376.70" y="730.30" font-size="8.5" text-anchor="middle" font-weight="normal" fill="#222" >–</text>
<text x="414.60" y="718.30" font-size="8.5" text-anchor="middle" font-weight="normal" fill="#222" >+</text>
<text x="414.60" y="730.30" font-size="8.5" text-anchor="middle" font-weight="normal" fill="#222" >–</text>
<text x="452.60" y="718.30" font-size="8.5" text-anchor="middle" font-weight="normal" fill="#222" >+</text>
<text x="452.60" y="730.30" font-size="8.5" text-anchor="middle" font-weight="normal" fill="#222" >0.01</text>
<text x="490.20" y="718.30" font-size="8.5" text-anchor="middle" font-weight="normal" fill="#222" >+</text>
<text x="490.20" y="730.30" font-size="8.5" text-anchor="middle" font-weight="normal" fill="#222" >0.1</text>
<rect x="0.5" y="0.5" width="519" height="737" fill="none" stroke="#1a1a1a" stroke-width="1"/>
</svg>
</body></html>
